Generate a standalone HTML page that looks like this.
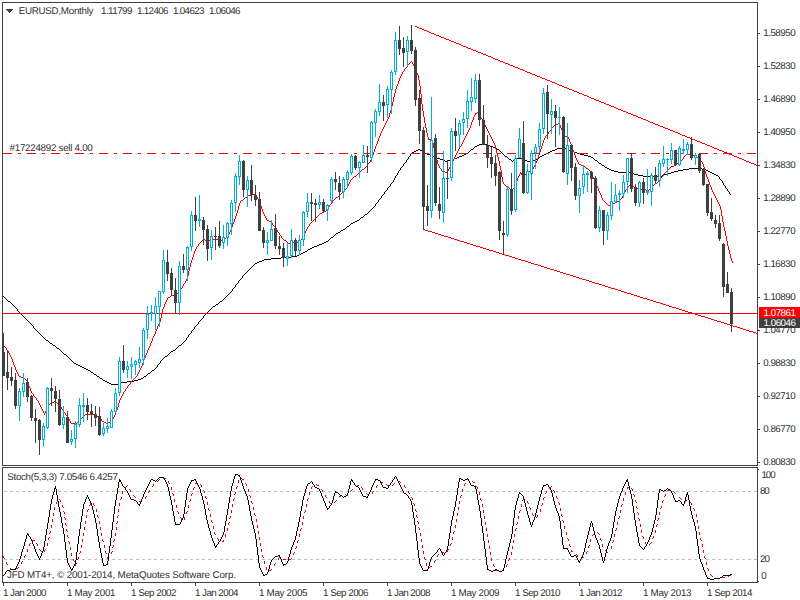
<!DOCTYPE html>
<html><head><meta charset="utf-8"><title>EURUSD Monthly</title>
<style>
html,body{margin:0;padding:0;background:#fff;}
body{width:800px;height:600px;position:relative;overflow:hidden;font-family:"Liberation Sans",sans-serif;}
.t{text-rendering:geometricPrecision;position:absolute;font-size:9.8px;line-height:12px;height:12px;white-space:nowrap;z-index:2;}
</style></head><body>
<svg width="800" height="600" viewBox="0 0 800 600" shape-rendering="crispEdges" style="position:absolute;left:0;top:0"><path d="M2 2h756v1h-756zM2 2h1v464h-1zM2 467h1v116h-1zM757 2h1v464h-1zM757 467h1v116h-1zM2 465h756v1h-756zM2 467h756v1h-756zM2 582h756v1h-756zM758 33h2v1h-2zM758 66h2v1h-2zM758 99h2v1h-2zM758 132h2v1h-2zM758 165h2v1h-2zM758 198h2v1h-2zM758 231h2v1h-2zM758 264h2v1h-2zM758 297h2v1h-2zM758 330h2v1h-2zM758 363h2v1h-2zM758 396h2v1h-2zM758 429h2v1h-2zM758 462h2v1h-2zM758 469h1v1h-1zM758 581h1v1h-1zM3 583h1v3h-1zM67 583h1v3h-1zM131 583h1v3h-1zM195 583h1v3h-1zM259 583h1v3h-1zM323 583h1v3h-1zM387 583h1v3h-1zM451 583h1v3h-1zM515 583h1v3h-1zM579 583h1v3h-1zM643 583h1v3h-1zM707 583h1v3h-1z" fill="#404040"/><path d="M4 491h3v1h-3zM10 491h3v1h-3zM16 491h3v1h-3zM22 491h3v1h-3zM28 491h3v1h-3zM34 491h3v1h-3zM40 491h3v1h-3zM46 491h3v1h-3zM52 491h3v1h-3zM58 491h3v1h-3zM64 491h3v1h-3zM70 491h3v1h-3zM76 491h3v1h-3zM82 491h3v1h-3zM88 491h3v1h-3zM94 491h3v1h-3zM100 491h3v1h-3zM106 491h3v1h-3zM112 491h3v1h-3zM118 491h3v1h-3zM124 491h3v1h-3zM130 491h3v1h-3zM136 491h3v1h-3zM142 491h3v1h-3zM148 491h3v1h-3zM154 491h3v1h-3zM160 491h3v1h-3zM166 491h3v1h-3zM172 491h3v1h-3zM178 491h3v1h-3zM184 491h3v1h-3zM190 491h3v1h-3zM196 491h3v1h-3zM202 491h3v1h-3zM208 491h3v1h-3zM214 491h3v1h-3zM220 491h3v1h-3zM226 491h3v1h-3zM232 491h3v1h-3zM238 491h3v1h-3zM244 491h3v1h-3zM250 491h3v1h-3zM256 491h3v1h-3zM262 491h3v1h-3zM268 491h3v1h-3zM274 491h3v1h-3zM280 491h3v1h-3zM286 491h3v1h-3zM292 491h3v1h-3zM298 491h3v1h-3zM304 491h3v1h-3zM310 491h3v1h-3zM316 491h3v1h-3zM322 491h3v1h-3zM328 491h3v1h-3zM334 491h3v1h-3zM340 491h3v1h-3zM346 491h3v1h-3zM352 491h3v1h-3zM358 491h3v1h-3zM364 491h3v1h-3zM370 491h3v1h-3zM376 491h3v1h-3zM382 491h3v1h-3zM388 491h3v1h-3zM394 491h3v1h-3zM400 491h3v1h-3zM406 491h3v1h-3zM412 491h3v1h-3zM418 491h3v1h-3zM424 491h3v1h-3zM430 491h3v1h-3zM436 491h3v1h-3zM442 491h3v1h-3zM448 491h3v1h-3zM454 491h3v1h-3zM460 491h3v1h-3zM466 491h3v1h-3zM472 491h3v1h-3zM478 491h3v1h-3zM484 491h3v1h-3zM490 491h3v1h-3zM496 491h3v1h-3zM502 491h3v1h-3zM508 491h3v1h-3zM514 491h3v1h-3zM520 491h3v1h-3zM526 491h3v1h-3zM532 491h3v1h-3zM538 491h3v1h-3zM544 491h3v1h-3zM550 491h3v1h-3zM556 491h3v1h-3zM562 491h3v1h-3zM568 491h3v1h-3zM574 491h3v1h-3zM580 491h3v1h-3zM586 491h3v1h-3zM592 491h3v1h-3zM598 491h3v1h-3zM604 491h3v1h-3zM610 491h3v1h-3zM616 491h3v1h-3zM622 491h3v1h-3zM628 491h3v1h-3zM634 491h3v1h-3zM640 491h3v1h-3zM646 491h3v1h-3zM652 491h3v1h-3zM658 491h3v1h-3zM664 491h3v1h-3zM670 491h3v1h-3zM676 491h3v1h-3zM682 491h3v1h-3zM688 491h3v1h-3zM694 491h3v1h-3zM700 491h3v1h-3zM706 491h3v1h-3zM712 491h3v1h-3zM718 491h3v1h-3zM724 491h3v1h-3zM730 491h3v1h-3zM736 491h3v1h-3zM742 491h3v1h-3zM748 491h3v1h-3zM754 491h3v1h-3zM4 559h3v1h-3zM10 559h3v1h-3zM16 559h3v1h-3zM22 559h3v1h-3zM28 559h3v1h-3zM34 559h3v1h-3zM40 559h3v1h-3zM46 559h3v1h-3zM52 559h3v1h-3zM58 559h3v1h-3zM64 559h3v1h-3zM70 559h3v1h-3zM76 559h3v1h-3zM82 559h3v1h-3zM88 559h3v1h-3zM94 559h3v1h-3zM100 559h3v1h-3zM106 559h3v1h-3zM112 559h3v1h-3zM118 559h3v1h-3zM124 559h3v1h-3zM130 559h3v1h-3zM136 559h3v1h-3zM142 559h3v1h-3zM148 559h3v1h-3zM154 559h3v1h-3zM160 559h3v1h-3zM166 559h3v1h-3zM172 559h3v1h-3zM178 559h3v1h-3zM184 559h3v1h-3zM190 559h3v1h-3zM196 559h3v1h-3zM202 559h3v1h-3zM208 559h3v1h-3zM214 559h3v1h-3zM220 559h3v1h-3zM226 559h3v1h-3zM232 559h3v1h-3zM238 559h3v1h-3zM244 559h3v1h-3zM250 559h3v1h-3zM256 559h3v1h-3zM262 559h3v1h-3zM268 559h3v1h-3zM274 559h3v1h-3zM280 559h3v1h-3zM286 559h3v1h-3zM292 559h3v1h-3zM298 559h3v1h-3zM304 559h3v1h-3zM310 559h3v1h-3zM316 559h3v1h-3zM322 559h3v1h-3zM328 559h3v1h-3zM334 559h3v1h-3zM340 559h3v1h-3zM346 559h3v1h-3zM352 559h3v1h-3zM358 559h3v1h-3zM364 559h3v1h-3zM370 559h3v1h-3zM376 559h3v1h-3zM382 559h3v1h-3zM388 559h3v1h-3zM394 559h3v1h-3zM400 559h3v1h-3zM406 559h3v1h-3zM412 559h3v1h-3zM418 559h3v1h-3zM424 559h3v1h-3zM430 559h3v1h-3zM436 559h3v1h-3zM442 559h3v1h-3zM448 559h3v1h-3zM454 559h3v1h-3zM460 559h3v1h-3zM466 559h3v1h-3zM472 559h3v1h-3zM478 559h3v1h-3zM484 559h3v1h-3zM490 559h3v1h-3zM496 559h3v1h-3zM502 559h3v1h-3zM508 559h3v1h-3zM514 559h3v1h-3zM520 559h3v1h-3zM526 559h3v1h-3zM532 559h3v1h-3zM538 559h3v1h-3zM544 559h3v1h-3zM550 559h3v1h-3zM556 559h3v1h-3zM562 559h3v1h-3zM568 559h3v1h-3zM574 559h3v1h-3zM580 559h3v1h-3zM586 559h3v1h-3zM592 559h3v1h-3zM598 559h3v1h-3zM604 559h3v1h-3zM610 559h3v1h-3zM616 559h3v1h-3zM622 559h3v1h-3zM628 559h3v1h-3zM634 559h3v1h-3zM640 559h3v1h-3zM646 559h3v1h-3zM652 559h3v1h-3zM658 559h3v1h-3zM664 559h3v1h-3zM670 559h3v1h-3zM676 559h3v1h-3zM682 559h3v1h-3zM688 559h3v1h-3zM694 559h3v1h-3zM700 559h3v1h-3zM706 559h3v1h-3zM712 559h3v1h-3zM718 559h3v1h-3zM724 559h3v1h-3zM730 559h3v1h-3zM736 559h3v1h-3zM742 559h3v1h-3zM748 559h3v1h-3zM754 559h3v1h-3z" fill="#C0C0C0"/><path d="M479 144h8v1h-8zM477 145h2v1h-2zM487 145h3v1h-3zM475 146h2v1h-2zM490 146h3v1h-3zM474 147h1v1h-1zM493 147h2v1h-2zM473 148h1v1h-1zM495 148h2v1h-2zM557 148h10v1h-10zM418 149h2v1h-2zM471 149h2v1h-2zM497 149h2v1h-2zM555 149h2v1h-2zM567 149h2v1h-2zM416 150h2v1h-2zM420 150h2v1h-2zM470 150h1v1h-1zM499 150h1v1h-1zM552 150h3v1h-3zM569 150h2v1h-2zM414 151h2v1h-2zM422 151h1v1h-1zM469 151h1v1h-1zM500 151h1v1h-1zM550 151h2v1h-2zM571 151h3v1h-3zM412 152h2v1h-2zM423 152h2v1h-2zM468 152h1v1h-1zM501 152h1v1h-1zM548 152h2v1h-2zM574 152h3v1h-3zM411 153h1v1h-1zM425 153h2v1h-2zM466 153h2v1h-2zM502 153h1v1h-1zM546 153h2v1h-2zM577 153h3v1h-3zM410 154h1v1h-1zM427 154h3v1h-3zM464 154h2v1h-2zM503 154h1v1h-1zM544 154h2v1h-2zM580 154h4v1h-4zM410 155h1v1h-1zM430 155h3v1h-3zM462 155h2v1h-2zM504 155h1v1h-1zM542 155h2v1h-2zM584 155h4v1h-4zM409 156h1v1h-1zM433 156h2v1h-2zM459 156h3v1h-3zM505 156h2v1h-2zM540 156h2v1h-2zM588 156h3v1h-3zM408 157h1v1h-1zM435 157h2v1h-2zM457 157h2v1h-2zM507 157h1v1h-1zM539 157h1v1h-1zM591 157h2v1h-2zM408 158h1v1h-1zM437 158h3v1h-3zM454 158h3v1h-3zM508 158h1v1h-1zM516 158h7v1h-7zM538 158h1v1h-1zM593 158h1v1h-1zM407 159h1v1h-1zM440 159h3v1h-3zM451 159h3v1h-3zM509 159h2v1h-2zM515 159h1v1h-1zM523 159h2v1h-2zM536 159h2v1h-2zM594 159h1v1h-1zM406 160h1v1h-1zM443 160h2v1h-2zM448 160h3v1h-3zM511 160h1v1h-1zM513 160h2v1h-2zM525 160h2v1h-2zM532 160h4v1h-4zM595 160h2v1h-2zM406 161h1v1h-1zM445 161h3v1h-3zM512 161h1v1h-1zM527 161h5v1h-5zM597 161h1v1h-1zM405 162h1v1h-1zM598 162h1v1h-1zM404 163h1v1h-1zM599 163h2v1h-2zM403 164h1v1h-1zM601 164h1v1h-1zM403 165h1v1h-1zM602 165h2v1h-2zM402 166h1v1h-1zM604 166h1v1h-1zM401 167h1v1h-1zM605 167h2v1h-2zM400 168h1v1h-1zM607 168h2v1h-2zM689 168h13v1h-13zM400 169h1v1h-1zM609 169h2v1h-2zM683 169h6v1h-6zM702 169h4v1h-4zM399 170h1v1h-1zM611 170h3v1h-3zM678 170h5v1h-5zM706 170h2v1h-2zM398 171h1v1h-1zM614 171h4v1h-4zM674 171h4v1h-4zM708 171h2v1h-2zM398 172h1v1h-1zM618 172h12v1h-12zM671 172h3v1h-3zM710 172h2v1h-2zM397 173h1v1h-1zM630 173h4v1h-4zM667 173h4v1h-4zM712 173h2v1h-2zM397 174h1v1h-1zM634 174h4v1h-4zM664 174h3v1h-3zM714 174h2v1h-2zM396 175h1v1h-1zM638 175h5v1h-5zM662 175h2v1h-2zM716 175h2v1h-2zM395 176h1v1h-1zM643 176h19v1h-19zM718 176h1v1h-1zM395 177h1v1h-1zM719 177h1v1h-1zM394 178h1v1h-1zM719 178h1v1h-1zM394 179h1v1h-1zM720 179h1v1h-1zM393 180h1v1h-1zM721 180h1v1h-1zM393 181h1v1h-1zM722 181h1v1h-1zM392 182h1v1h-1zM722 182h1v1h-1zM391 183h1v1h-1zM723 183h1v1h-1zM390 184h1v1h-1zM723 184h1v1h-1zM390 185h1v1h-1zM724 185h1v1h-1zM389 186h1v1h-1zM725 186h1v1h-1zM388 187h1v1h-1zM725 187h1v1h-1zM387 188h1v1h-1zM726 188h1v1h-1zM387 189h1v1h-1zM727 189h1v1h-1zM386 190h1v1h-1zM727 190h1v1h-1zM385 191h1v1h-1zM728 191h1v1h-1zM384 192h1v1h-1zM729 192h1v1h-1zM384 193h1v1h-1zM729 193h1v1h-1zM383 194h1v1h-1zM730 194h1v1h-1zM382 195h1v1h-1zM381 196h1v1h-1zM381 197h1v1h-1zM380 198h1v1h-1zM379 199h1v1h-1zM378 200h1v1h-1zM378 201h1v1h-1zM377 202h1v1h-1zM376 203h1v1h-1zM375 204h1v1h-1zM375 205h1v1h-1zM374 206h1v1h-1zM373 207h1v1h-1zM372 208h1v1h-1zM371 209h1v1h-1zM370 210h1v1h-1zM369 211h1v1h-1zM368 212h1v1h-1zM367 213h1v1h-1zM365 214h2v1h-2zM364 215h1v1h-1zM363 216h1v1h-1zM361 217h2v1h-2zM360 218h1v1h-1zM359 219h1v1h-1zM357 220h2v1h-2zM355 221h2v1h-2zM353 222h2v1h-2zM351 223h2v1h-2zM350 224h1v1h-1zM349 225h1v1h-1zM347 226h2v1h-2zM346 227h1v1h-1zM345 228h1v1h-1zM343 229h2v1h-2zM341 230h2v1h-2zM340 231h1v1h-1zM338 232h2v1h-2zM336 233h2v1h-2zM335 234h1v1h-1zM334 235h1v1h-1zM333 236h1v1h-1zM331 237h2v1h-2zM330 238h1v1h-1zM329 239h1v1h-1zM328 240h1v1h-1zM326 241h2v1h-2zM324 242h2v1h-2zM322 243h2v1h-2zM319 244h3v1h-3zM317 245h2v1h-2zM314 246h3v1h-3zM312 247h2v1h-2zM310 248h2v1h-2zM308 249h2v1h-2zM307 250h1v1h-1zM305 251h2v1h-2zM303 252h2v1h-2zM301 253h2v1h-2zM299 254h2v1h-2zM297 255h2v1h-2zM291 256h6v1h-6zM281 257h10v1h-10zM271 258h10v1h-10zM264 259h7v1h-7zM262 260h2v1h-2zM259 261h3v1h-3zM257 262h2v1h-2zM255 263h2v1h-2zM254 264h1v1h-1zM253 265h1v1h-1zM252 266h1v1h-1zM251 267h1v1h-1zM250 268h1v1h-1zM249 269h1v1h-1zM248 270h1v1h-1zM247 271h1v1h-1zM246 272h1v1h-1zM245 273h1v1h-1zM244 274h1v1h-1zM243 275h1v1h-1zM242 276h1v1h-1zM242 277h1v1h-1zM241 278h1v1h-1zM240 279h1v1h-1zM239 280h1v1h-1zM238 281h1v1h-1zM238 282h1v1h-1zM237 283h1v1h-1zM236 284h1v1h-1zM235 285h1v1h-1zM235 286h1v1h-1zM234 287h1v1h-1zM233 288h1v1h-1zM232 289h1v1h-1zM232 290h1v1h-1zM231 291h1v1h-1zM230 292h1v1h-1zM229 293h1v1h-1zM228 294h1v1h-1zM227 295h1v1h-1zM3 296h1v1h-1zM226 296h1v1h-1zM4 297h1v1h-1zM225 297h1v1h-1zM5 298h1v1h-1zM224 298h1v1h-1zM6 299h1v1h-1zM223 299h1v1h-1zM7 300h1v1h-1zM222 300h1v1h-1zM8 301h2v1h-2zM220 301h2v1h-2zM10 302h1v1h-1zM219 302h1v1h-1zM11 303h1v1h-1zM218 303h1v1h-1zM12 304h1v1h-1zM216 304h2v1h-2zM13 305h1v1h-1zM215 305h1v1h-1zM14 306h1v1h-1zM213 306h2v1h-2zM15 307h1v1h-1zM212 307h1v1h-1zM16 308h1v1h-1zM211 308h1v1h-1zM17 309h1v1h-1zM210 309h1v1h-1zM17 310h1v1h-1zM209 310h1v1h-1zM18 311h1v1h-1zM208 311h1v1h-1zM19 312h1v1h-1zM207 312h1v1h-1zM20 313h1v1h-1zM206 313h1v1h-1zM21 314h1v1h-1zM205 314h1v1h-1zM22 315h1v1h-1zM204 315h1v1h-1zM23 316h1v1h-1zM203 316h1v1h-1zM24 317h1v1h-1zM203 317h1v1h-1zM25 318h1v1h-1zM202 318h1v1h-1zM26 319h1v1h-1zM201 319h1v1h-1zM27 320h1v1h-1zM200 320h1v1h-1zM28 321h1v1h-1zM199 321h1v1h-1zM29 322h1v1h-1zM198 322h1v1h-1zM30 323h1v1h-1zM198 323h1v1h-1zM31 324h1v1h-1zM197 324h1v1h-1zM32 325h1v1h-1zM196 325h1v1h-1zM33 326h1v1h-1zM195 326h1v1h-1zM33 327h1v1h-1zM194 327h1v1h-1zM34 328h1v1h-1zM194 328h1v1h-1zM35 329h1v1h-1zM193 329h1v1h-1zM36 330h1v1h-1zM192 330h1v1h-1zM37 331h1v1h-1zM191 331h1v1h-1zM38 332h1v1h-1zM191 332h1v1h-1zM39 333h1v1h-1zM190 333h1v1h-1zM40 334h1v1h-1zM189 334h1v1h-1zM41 335h1v1h-1zM188 335h1v1h-1zM42 336h1v1h-1zM188 336h1v1h-1zM43 337h1v1h-1zM187 337h1v1h-1zM44 338h1v1h-1zM186 338h1v1h-1zM45 339h1v1h-1zM186 339h1v1h-1zM46 340h2v1h-2zM185 340h1v1h-1zM48 341h1v1h-1zM184 341h1v1h-1zM49 342h1v1h-1zM183 342h1v1h-1zM50 343h2v1h-2zM182 343h1v1h-1zM52 344h1v1h-1zM181 344h1v1h-1zM53 345h2v1h-2zM179 345h2v1h-2zM55 346h1v1h-1zM178 346h1v1h-1zM56 347h1v1h-1zM177 347h1v1h-1zM57 348h2v1h-2zM176 348h1v1h-1zM59 349h1v1h-1zM175 349h1v1h-1zM60 350h1v1h-1zM173 350h2v1h-2zM61 351h1v1h-1zM171 351h2v1h-2zM62 352h1v1h-1zM170 352h1v1h-1zM63 353h1v1h-1zM169 353h1v1h-1zM64 354h2v1h-2zM168 354h1v1h-1zM66 355h1v1h-1zM167 355h1v1h-1zM67 356h1v1h-1zM165 356h2v1h-2zM68 357h1v1h-1zM164 357h1v1h-1zM69 358h1v1h-1zM163 358h1v1h-1zM70 359h1v1h-1zM162 359h1v1h-1zM71 360h1v1h-1zM161 360h1v1h-1zM72 361h1v1h-1zM160 361h1v1h-1zM73 362h1v1h-1zM160 362h1v1h-1zM74 363h2v1h-2zM159 363h1v1h-1zM76 364h2v1h-2zM158 364h1v1h-1zM78 365h2v1h-2zM157 365h1v1h-1zM80 366h2v1h-2zM157 366h1v1h-1zM82 367h2v1h-2zM156 367h1v1h-1zM84 368h2v1h-2zM155 368h1v1h-1zM86 369h2v1h-2zM154 369h1v1h-1zM88 370h2v1h-2zM152 370h2v1h-2zM90 371h1v1h-1zM151 371h1v1h-1zM91 372h2v1h-2zM150 372h1v1h-1zM93 373h1v1h-1zM148 373h2v1h-2zM94 374h2v1h-2zM147 374h1v1h-1zM96 375h1v1h-1zM146 375h1v1h-1zM97 376h2v1h-2zM144 376h2v1h-2zM99 377h1v1h-1zM143 377h1v1h-1zM100 378h2v1h-2zM141 378h2v1h-2zM102 379h1v1h-1zM138 379h3v1h-3zM103 380h2v1h-2zM134 380h4v1h-4zM105 381h2v1h-2zM127 381h7v1h-7zM107 382h2v1h-2zM121 382h6v1h-6zM109 383h2v1h-2zM119 383h2v1h-2zM111 384h8v1h-8z" fill="#000"/><path d="M411 61h1v1h-1zM410 62h1v1h-1zM412 62h1v1h-1zM409 63h1v1h-1zM412 63h1v1h-1zM408 64h1v1h-1zM413 64h1v1h-1zM407 65h1v1h-1zM413 65h1v1h-1zM407 66h1v1h-1zM414 66h1v1h-1zM406 67h1v1h-1zM414 67h1v1h-1zM405 68h1v1h-1zM415 68h1v1h-1zM404 69h1v1h-1zM415 69h1v1h-1zM404 70h1v1h-1zM416 70h1v1h-1zM403 71h1v1h-1zM416 71h1v1h-1zM402 72h1v1h-1zM416 72h1v1h-1zM402 73h1v1h-1zM417 73h1v1h-1zM401 74h1v1h-1zM417 74h1v1h-1zM401 75h1v1h-1zM418 75h1v1h-1zM400 76h1v1h-1zM418 76h1v1h-1zM400 77h1v1h-1zM418 77h1v1h-1zM399 78h1v1h-1zM418 78h1v1h-1zM399 79h1v1h-1zM418 79h1v1h-1zM399 80h1v1h-1zM419 80h1v1h-1zM398 81h1v1h-1zM419 81h1v1h-1zM398 82h1v1h-1zM419 82h1v1h-1zM398 83h1v1h-1zM419 83h1v1h-1zM397 84h1v1h-1zM419 84h1v1h-1zM397 85h1v1h-1zM419 85h1v1h-1zM396 86h1v1h-1zM420 86h1v1h-1zM396 87h1v1h-1zM420 87h1v1h-1zM396 88h1v1h-1zM420 88h1v1h-1zM395 89h1v1h-1zM420 89h1v1h-1zM395 90h1v1h-1zM420 90h1v1h-1zM395 91h1v1h-1zM420 91h1v1h-1zM395 92h1v1h-1zM420 92h1v1h-1zM394 93h1v1h-1zM420 93h1v1h-1zM394 94h1v1h-1zM421 94h1v1h-1zM394 95h1v1h-1zM421 95h1v1h-1zM394 96h1v1h-1zM421 96h1v1h-1zM393 97h1v1h-1zM421 97h1v1h-1zM393 98h1v1h-1zM421 98h1v1h-1zM393 99h1v1h-1zM421 99h1v1h-1zM393 100h1v1h-1zM421 100h1v1h-1zM393 101h1v1h-1zM421 101h1v1h-1zM392 102h1v1h-1zM421 102h1v1h-1zM392 103h1v1h-1zM421 103h1v1h-1zM392 104h1v1h-1zM422 104h1v1h-1zM392 105h1v1h-1zM422 105h1v1h-1zM391 106h1v1h-1zM422 106h1v1h-1zM391 107h1v1h-1zM422 107h1v1h-1zM391 108h1v1h-1zM422 108h1v1h-1zM391 109h1v1h-1zM422 109h1v1h-1zM390 110h1v1h-1zM422 110h1v1h-1zM390 111h1v1h-1zM423 111h1v1h-1zM390 112h1v1h-1zM423 112h1v1h-1zM477 112h2v1h-2zM389 113h1v1h-1zM423 113h1v1h-1zM475 113h2v1h-2zM478 113h1v1h-1zM389 114h1v1h-1zM423 114h1v1h-1zM475 114h1v1h-1zM479 114h1v1h-1zM389 115h1v1h-1zM423 115h1v1h-1zM474 115h1v1h-1zM479 115h1v1h-1zM389 116h1v1h-1zM423 116h1v1h-1zM474 116h1v1h-1zM480 116h1v1h-1zM388 117h1v1h-1zM424 117h1v1h-1zM473 117h1v1h-1zM480 117h1v1h-1zM388 118h1v1h-1zM424 118h1v1h-1zM473 118h1v1h-1zM481 118h1v1h-1zM387 119h1v1h-1zM424 119h1v1h-1zM473 119h1v1h-1zM482 119h1v1h-1zM387 120h1v1h-1zM424 120h1v1h-1zM472 120h1v1h-1zM482 120h1v1h-1zM386 121h1v1h-1zM424 121h1v1h-1zM472 121h1v1h-1zM483 121h1v1h-1zM386 122h1v1h-1zM424 122h1v1h-1zM471 122h1v1h-1zM483 122h1v1h-1zM385 123h1v1h-1zM425 123h1v1h-1zM471 123h1v1h-1zM484 123h1v1h-1zM558 123h2v1h-2zM385 124h1v1h-1zM425 124h1v1h-1zM471 124h1v1h-1zM484 124h1v1h-1zM556 124h2v1h-2zM559 124h1v1h-1zM384 125h1v1h-1zM425 125h1v1h-1zM470 125h1v1h-1zM485 125h1v1h-1zM554 125h2v1h-2zM560 125h1v1h-1zM384 126h1v1h-1zM425 126h1v1h-1zM470 126h1v1h-1zM485 126h1v1h-1zM553 126h1v1h-1zM560 126h1v1h-1zM383 127h1v1h-1zM425 127h1v1h-1zM470 127h1v1h-1zM486 127h1v1h-1zM552 127h1v1h-1zM560 127h1v1h-1zM383 128h1v1h-1zM426 128h1v1h-1zM469 128h1v1h-1zM486 128h1v1h-1zM551 128h1v1h-1zM561 128h1v1h-1zM382 129h1v1h-1zM426 129h1v1h-1zM469 129h1v1h-1zM487 129h1v1h-1zM551 129h1v1h-1zM561 129h1v1h-1zM382 130h1v1h-1zM426 130h1v1h-1zM468 130h1v1h-1zM487 130h1v1h-1zM550 130h1v1h-1zM562 130h1v1h-1zM381 131h1v1h-1zM426 131h1v1h-1zM468 131h1v1h-1zM488 131h1v1h-1zM549 131h1v1h-1zM562 131h1v1h-1zM381 132h1v1h-1zM426 132h1v1h-1zM467 132h1v1h-1zM488 132h1v1h-1zM548 132h1v1h-1zM563 132h1v1h-1zM380 133h1v1h-1zM427 133h1v1h-1zM467 133h1v1h-1zM489 133h1v1h-1zM548 133h1v1h-1zM563 133h1v1h-1zM380 134h1v1h-1zM427 134h1v1h-1zM466 134h1v1h-1zM489 134h1v1h-1zM547 134h1v1h-1zM564 134h1v1h-1zM380 135h1v1h-1zM427 135h1v1h-1zM466 135h1v1h-1zM490 135h1v1h-1zM546 135h1v1h-1zM564 135h1v1h-1zM379 136h1v1h-1zM427 136h1v1h-1zM465 136h1v1h-1zM490 136h1v1h-1zM545 136h1v1h-1zM565 136h2v1h-2zM379 137h1v1h-1zM428 137h1v1h-1zM465 137h1v1h-1zM491 137h1v1h-1zM545 137h1v1h-1zM567 137h2v1h-2zM378 138h1v1h-1zM428 138h1v1h-1zM464 138h1v1h-1zM491 138h1v1h-1zM544 138h1v1h-1zM568 138h1v1h-1zM378 139h1v1h-1zM428 139h3v1h-3zM464 139h1v1h-1zM492 139h1v1h-1zM544 139h1v1h-1zM569 139h1v1h-1zM378 140h1v1h-1zM431 140h2v1h-2zM463 140h1v1h-1zM492 140h1v1h-1zM543 140h1v1h-1zM569 140h1v1h-1zM377 141h1v1h-1zM432 141h1v1h-1zM463 141h1v1h-1zM493 141h1v1h-1zM543 141h1v1h-1zM569 141h1v1h-1zM377 142h1v1h-1zM432 142h1v1h-1zM462 142h1v1h-1zM493 142h1v1h-1zM543 142h1v1h-1zM570 142h1v1h-1zM377 143h1v1h-1zM433 143h1v1h-1zM462 143h1v1h-1zM494 143h1v1h-1zM542 143h1v1h-1zM570 143h1v1h-1zM376 144h1v1h-1zM433 144h1v1h-1zM461 144h1v1h-1zM494 144h1v1h-1zM542 144h1v1h-1zM571 144h1v1h-1zM376 145h1v1h-1zM433 145h1v1h-1zM461 145h1v1h-1zM495 145h1v1h-1zM542 145h1v1h-1zM571 145h1v1h-1zM375 146h1v1h-1zM433 146h1v1h-1zM460 146h1v1h-1zM495 146h1v1h-1zM541 146h1v1h-1zM571 146h1v1h-1zM375 147h1v1h-1zM433 147h1v1h-1zM459 147h1v1h-1zM495 147h1v1h-1zM541 147h1v1h-1zM572 147h1v1h-1zM375 148h1v1h-1zM434 148h1v1h-1zM459 148h1v1h-1zM495 148h1v1h-1zM541 148h1v1h-1zM572 148h1v1h-1zM374 149h1v1h-1zM434 149h1v1h-1zM458 149h1v1h-1zM496 149h1v1h-1zM540 149h1v1h-1zM572 149h1v1h-1zM374 150h1v1h-1zM434 150h1v1h-1zM458 150h1v1h-1zM496 150h1v1h-1zM540 150h1v1h-1zM573 150h1v1h-1zM374 151h1v1h-1zM434 151h1v1h-1zM457 151h1v1h-1zM496 151h1v1h-1zM540 151h1v1h-1zM573 151h1v1h-1zM373 152h1v1h-1zM435 152h1v1h-1zM457 152h1v1h-1zM496 152h1v1h-1zM539 152h1v1h-1zM574 152h1v1h-1zM373 153h1v1h-1zM435 153h1v1h-1zM456 153h1v1h-1zM497 153h1v1h-1zM539 153h1v1h-1zM574 153h1v1h-1zM373 154h1v1h-1zM435 154h1v1h-1zM456 154h1v1h-1zM497 154h1v1h-1zM539 154h1v1h-1zM574 154h1v1h-1zM686 154h4v1h-4zM372 155h1v1h-1zM435 155h1v1h-1zM455 155h1v1h-1zM497 155h1v1h-1zM538 155h1v1h-1zM575 155h1v1h-1zM685 155h1v1h-1zM690 155h4v1h-4zM372 156h1v1h-1zM436 156h1v1h-1zM455 156h1v1h-1zM497 156h1v1h-1zM538 156h1v1h-1zM575 156h1v1h-1zM684 156h1v1h-1zM694 156h2v1h-2zM372 157h1v1h-1zM436 157h1v1h-1zM454 157h1v1h-1zM498 157h1v1h-1zM538 157h1v1h-1zM575 157h1v1h-1zM683 157h1v1h-1zM696 157h2v1h-2zM371 158h1v1h-1zM436 158h1v1h-1zM454 158h1v1h-1zM498 158h1v1h-1zM537 158h1v1h-1zM576 158h1v1h-1zM683 158h1v1h-1zM698 158h2v1h-2zM371 159h1v1h-1zM436 159h1v1h-1zM453 159h1v1h-1zM498 159h1v1h-1zM537 159h1v1h-1zM576 159h1v1h-1zM682 159h1v1h-1zM700 159h1v1h-1zM370 160h1v1h-1zM437 160h1v1h-1zM453 160h1v1h-1zM498 160h1v1h-1zM537 160h1v1h-1zM577 160h1v1h-1zM681 160h1v1h-1zM700 160h1v1h-1zM370 161h1v1h-1zM437 161h1v1h-1zM452 161h1v1h-1zM499 161h1v1h-1zM536 161h1v1h-1zM577 161h1v1h-1zM680 161h1v1h-1zM701 161h1v1h-1zM369 162h1v1h-1zM437 162h1v1h-1zM452 162h1v1h-1zM499 162h1v1h-1zM536 162h1v1h-1zM578 162h1v1h-1zM679 162h1v1h-1zM702 162h1v1h-1zM368 163h1v1h-1zM437 163h1v1h-1zM451 163h1v1h-1zM499 163h1v1h-1zM535 163h1v1h-1zM578 163h1v1h-1zM677 163h2v1h-2zM702 163h1v1h-1zM367 164h1v1h-1zM438 164h1v1h-1zM451 164h1v1h-1zM499 164h1v1h-1zM535 164h1v1h-1zM579 164h2v1h-2zM676 164h1v1h-1zM703 164h1v1h-1zM367 165h1v1h-1zM438 165h1v1h-1zM450 165h1v1h-1zM499 165h1v1h-1zM534 165h1v1h-1zM581 165h2v1h-2zM674 165h2v1h-2zM703 165h1v1h-1zM366 166h1v1h-1zM439 166h1v1h-1zM450 166h1v1h-1zM500 166h1v1h-1zM534 166h1v1h-1zM583 166h2v1h-2zM671 166h3v1h-3zM703 166h1v1h-1zM365 167h1v1h-1zM439 167h1v1h-1zM449 167h1v1h-1zM500 167h1v1h-1zM533 167h1v1h-1zM585 167h1v1h-1zM670 167h1v1h-1zM704 167h1v1h-1zM364 168h1v1h-1zM440 168h1v1h-1zM449 168h1v1h-1zM500 168h1v1h-1zM533 168h1v1h-1zM586 168h2v1h-2zM669 168h1v1h-1zM704 168h1v1h-1zM362 169h2v1h-2zM441 169h1v1h-1zM448 169h1v1h-1zM500 169h1v1h-1zM532 169h1v1h-1zM588 169h1v1h-1zM668 169h1v1h-1zM704 169h1v1h-1zM361 170h1v1h-1zM441 170h1v1h-1zM448 170h1v1h-1zM501 170h1v1h-1zM531 170h1v1h-1zM589 170h1v1h-1zM667 170h1v1h-1zM704 170h1v1h-1zM360 171h1v1h-1zM442 171h3v1h-3zM447 171h1v1h-1zM501 171h1v1h-1zM529 171h2v1h-2zM590 171h1v1h-1zM666 171h1v1h-1zM705 171h1v1h-1zM359 172h1v1h-1zM445 172h3v1h-3zM501 172h1v1h-1zM520 172h1v1h-1zM528 172h1v1h-1zM590 172h1v1h-1zM665 172h1v1h-1zM705 172h1v1h-1zM358 173h1v1h-1zM501 173h1v1h-1zM520 173h2v1h-2zM526 173h2v1h-2zM591 173h1v1h-1zM664 173h1v1h-1zM705 173h1v1h-1zM357 174h1v1h-1zM501 174h1v1h-1zM519 174h1v1h-1zM521 174h1v1h-1zM524 174h2v1h-2zM591 174h1v1h-1zM663 174h1v1h-1zM706 174h1v1h-1zM356 175h1v1h-1zM501 175h1v1h-1zM519 175h1v1h-1zM522 175h2v1h-2zM592 175h1v1h-1zM663 175h1v1h-1zM706 175h1v1h-1zM354 176h2v1h-2zM501 176h1v1h-1zM518 176h1v1h-1zM592 176h1v1h-1zM662 176h1v1h-1zM706 176h1v1h-1zM353 177h1v1h-1zM502 177h1v1h-1zM518 177h1v1h-1zM593 177h1v1h-1zM661 177h1v1h-1zM707 177h1v1h-1zM352 178h1v1h-1zM502 178h1v1h-1zM517 178h1v1h-1zM593 178h1v1h-1zM660 178h1v1h-1zM707 178h1v1h-1zM351 179h1v1h-1zM502 179h1v1h-1zM517 179h1v1h-1zM594 179h1v1h-1zM660 179h1v1h-1zM708 179h1v1h-1zM350 180h1v1h-1zM502 180h1v1h-1zM517 180h1v1h-1zM594 180h1v1h-1zM659 180h1v1h-1zM708 180h1v1h-1zM350 181h1v1h-1zM502 181h1v1h-1zM516 181h1v1h-1zM595 181h1v1h-1zM658 181h1v1h-1zM708 181h1v1h-1zM349 182h1v1h-1zM503 182h1v1h-1zM516 182h1v1h-1zM595 182h1v1h-1zM657 182h1v1h-1zM709 182h1v1h-1zM349 183h1v1h-1zM503 183h1v1h-1zM516 183h1v1h-1zM596 183h1v1h-1zM655 183h2v1h-2zM709 183h1v1h-1zM348 184h1v1h-1zM504 184h1v1h-1zM515 184h1v1h-1zM596 184h1v1h-1zM654 184h1v1h-1zM709 184h1v1h-1zM348 185h1v1h-1zM505 185h1v1h-1zM515 185h1v1h-1zM596 185h1v1h-1zM629 185h2v1h-2zM653 185h1v1h-1zM710 185h1v1h-1zM347 186h1v1h-1zM506 186h2v1h-2zM515 186h1v1h-1zM597 186h1v1h-1zM628 186h1v1h-1zM631 186h3v1h-3zM652 186h1v1h-1zM710 186h1v1h-1zM347 187h1v1h-1zM508 187h1v1h-1zM514 187h1v1h-1zM597 187h1v1h-1zM627 187h1v1h-1zM634 187h3v1h-3zM651 187h1v1h-1zM711 187h1v1h-1zM346 188h1v1h-1zM509 188h1v1h-1zM513 188h2v1h-2zM598 188h1v1h-1zM627 188h1v1h-1zM637 188h4v1h-4zM650 188h1v1h-1zM711 188h1v1h-1zM345 189h1v1h-1zM510 189h3v1h-3zM598 189h1v1h-1zM626 189h1v1h-1zM641 189h5v1h-5zM649 189h1v1h-1zM711 189h1v1h-1zM344 190h1v1h-1zM598 190h1v1h-1zM625 190h1v1h-1zM646 190h3v1h-3zM712 190h1v1h-1zM343 191h1v1h-1zM599 191h1v1h-1zM625 191h1v1h-1zM712 191h1v1h-1zM342 192h1v1h-1zM599 192h1v1h-1zM624 192h1v1h-1zM713 192h1v1h-1zM341 193h1v1h-1zM600 193h1v1h-1zM624 193h1v1h-1zM713 193h1v1h-1zM252 194h4v1h-4zM340 194h1v1h-1zM600 194h1v1h-1zM623 194h1v1h-1zM714 194h1v1h-1zM248 195h4v1h-4zM256 195h1v1h-1zM339 195h1v1h-1zM601 195h1v1h-1zM623 195h1v1h-1zM714 195h1v1h-1zM247 196h1v1h-1zM256 196h1v1h-1zM338 196h1v1h-1zM601 196h1v1h-1zM622 196h1v1h-1zM715 196h1v1h-1zM245 197h2v1h-2zM257 197h1v1h-1zM336 197h2v1h-2zM601 197h1v1h-1zM622 197h1v1h-1zM715 197h1v1h-1zM244 198h1v1h-1zM257 198h1v1h-1zM335 198h1v1h-1zM602 198h1v1h-1zM621 198h1v1h-1zM716 198h1v1h-1zM243 199h1v1h-1zM258 199h1v1h-1zM334 199h1v1h-1zM602 199h1v1h-1zM620 199h1v1h-1zM716 199h1v1h-1zM241 200h2v1h-2zM258 200h1v1h-1zM333 200h1v1h-1zM603 200h1v1h-1zM619 200h1v1h-1zM717 200h1v1h-1zM240 201h1v1h-1zM259 201h1v1h-1zM332 201h1v1h-1zM604 201h1v1h-1zM617 201h2v1h-2zM717 201h1v1h-1zM240 202h1v1h-1zM259 202h1v1h-1zM332 202h1v1h-1zM605 202h1v1h-1zM615 202h2v1h-2zM718 202h1v1h-1zM239 203h1v1h-1zM260 203h1v1h-1zM331 203h1v1h-1zM606 203h1v1h-1zM612 203h3v1h-3zM718 203h1v1h-1zM239 204h1v1h-1zM260 204h1v1h-1zM330 204h1v1h-1zM607 204h1v1h-1zM610 204h2v1h-2zM719 204h1v1h-1zM239 205h1v1h-1zM260 205h1v1h-1zM329 205h1v1h-1zM608 205h2v1h-2zM719 205h1v1h-1zM238 206h1v1h-1zM261 206h1v1h-1zM329 206h1v1h-1zM720 206h1v1h-1zM238 207h1v1h-1zM261 207h1v1h-1zM328 207h1v1h-1zM720 207h1v1h-1zM238 208h1v1h-1zM261 208h1v1h-1zM327 208h1v1h-1zM720 208h1v1h-1zM238 209h1v1h-1zM262 209h1v1h-1zM326 209h1v1h-1zM720 209h1v1h-1zM237 210h1v1h-1zM262 210h1v1h-1zM326 210h1v1h-1zM721 210h1v1h-1zM237 211h1v1h-1zM262 211h1v1h-1zM324 211h2v1h-2zM721 211h1v1h-1zM237 212h1v1h-1zM263 212h1v1h-1zM322 212h2v1h-2zM721 212h1v1h-1zM236 213h1v1h-1zM263 213h1v1h-1zM320 213h2v1h-2zM721 213h1v1h-1zM236 214h1v1h-1zM264 214h1v1h-1zM319 214h1v1h-1zM721 214h1v1h-1zM236 215h1v1h-1zM264 215h1v1h-1zM318 215h1v1h-1zM721 215h1v1h-1zM235 216h1v1h-1zM265 216h1v1h-1zM317 216h1v1h-1zM722 216h1v1h-1zM235 217h1v1h-1zM265 217h1v1h-1zM316 217h1v1h-1zM722 217h1v1h-1zM235 218h1v1h-1zM266 218h1v1h-1zM315 218h1v1h-1zM722 218h1v1h-1zM234 219h1v1h-1zM266 219h1v1h-1zM314 219h1v1h-1zM722 219h1v1h-1zM234 220h1v1h-1zM267 220h2v1h-2zM313 220h1v1h-1zM722 220h1v1h-1zM234 221h1v1h-1zM269 221h2v1h-2zM312 221h1v1h-1zM722 221h1v1h-1zM233 222h1v1h-1zM271 222h1v1h-1zM311 222h1v1h-1zM723 222h1v1h-1zM233 223h1v1h-1zM272 223h1v1h-1zM310 223h1v1h-1zM723 223h1v1h-1zM232 224h1v1h-1zM272 224h1v1h-1zM309 224h1v1h-1zM723 224h1v1h-1zM232 225h1v1h-1zM273 225h1v1h-1zM309 225h1v1h-1zM723 225h1v1h-1zM232 226h1v1h-1zM274 226h1v1h-1zM308 226h1v1h-1zM723 226h1v1h-1zM231 227h1v1h-1zM275 227h1v1h-1zM307 227h1v1h-1zM724 227h1v1h-1zM231 228h1v1h-1zM275 228h1v1h-1zM307 228h1v1h-1zM724 228h1v1h-1zM231 229h1v1h-1zM276 229h1v1h-1zM306 229h1v1h-1zM724 229h1v1h-1zM230 230h1v1h-1zM277 230h1v1h-1zM306 230h1v1h-1zM724 230h1v1h-1zM230 231h1v1h-1zM277 231h1v1h-1zM305 231h1v1h-1zM725 231h1v1h-1zM229 232h1v1h-1zM278 232h1v1h-1zM305 232h1v1h-1zM725 232h1v1h-1zM229 233h1v1h-1zM279 233h1v1h-1zM304 233h1v1h-1zM725 233h1v1h-1zM228 234h1v1h-1zM279 234h1v1h-1zM304 234h1v1h-1zM725 234h1v1h-1zM227 235h1v1h-1zM280 235h1v1h-1zM303 235h1v1h-1zM725 235h1v1h-1zM226 236h1v1h-1zM281 236h1v1h-1zM303 236h1v1h-1zM726 236h1v1h-1zM226 237h1v1h-1zM281 237h1v1h-1zM302 237h1v1h-1zM726 237h1v1h-1zM225 238h1v1h-1zM282 238h1v1h-1zM302 238h1v1h-1zM726 238h1v1h-1zM204 239h1v1h-1zM212 239h6v1h-6zM223 239h2v1h-2zM283 239h1v1h-1zM301 239h1v1h-1zM726 239h1v1h-1zM202 240h2v1h-2zM205 240h1v1h-1zM208 240h4v1h-4zM218 240h5v1h-5zM284 240h2v1h-2zM300 240h1v1h-1zM726 240h1v1h-1zM201 241h1v1h-1zM206 241h2v1h-2zM286 241h1v1h-1zM300 241h1v1h-1zM727 241h1v1h-1zM200 242h1v1h-1zM287 242h1v1h-1zM291 242h9v1h-9zM727 242h1v1h-1zM199 243h1v1h-1zM288 243h3v1h-3zM727 243h1v1h-1zM198 244h1v1h-1zM727 244h1v1h-1zM198 245h1v1h-1zM727 245h1v1h-1zM197 246h1v1h-1zM728 246h1v1h-1zM196 247h1v1h-1zM728 247h1v1h-1zM196 248h1v1h-1zM728 248h1v1h-1zM195 249h1v1h-1zM728 249h1v1h-1zM195 250h1v1h-1zM729 250h1v1h-1zM194 251h1v1h-1zM729 251h1v1h-1zM194 252h1v1h-1zM729 252h1v1h-1zM194 253h1v1h-1zM729 253h1v1h-1zM193 254h1v1h-1zM730 254h1v1h-1zM193 255h1v1h-1zM730 255h1v1h-1zM193 256h1v1h-1zM730 256h1v1h-1zM192 257h1v1h-1zM730 257h1v1h-1zM192 258h1v1h-1zM731 258h1v1h-1zM192 259h1v1h-1zM731 259h1v1h-1zM191 260h1v1h-1zM731 260h1v1h-1zM191 261h1v1h-1zM732 261h1v1h-1zM191 262h1v1h-1zM732 262h1v1h-1zM190 263h1v1h-1zM190 264h1v1h-1zM190 265h1v1h-1zM190 266h1v1h-1zM189 267h1v1h-1zM189 268h1v1h-1zM189 269h1v1h-1zM189 270h1v1h-1zM188 271h1v1h-1zM188 272h1v1h-1zM188 273h1v1h-1zM188 274h1v1h-1zM188 275h1v1h-1zM187 276h1v1h-1zM187 277h1v1h-1zM187 278h1v1h-1zM186 279h1v1h-1zM186 280h1v1h-1zM185 281h1v1h-1zM185 282h1v1h-1zM184 283h1v1h-1zM183 284h1v1h-1zM183 285h1v1h-1zM182 286h1v1h-1zM182 287h1v1h-1zM181 288h1v1h-1zM180 289h1v1h-1zM179 290h1v1h-1zM178 291h1v1h-1zM178 292h1v1h-1zM177 293h1v1h-1zM174 294h3v1h-3zM171 295h3v1h-3zM170 296h1v1h-1zM168 297h2v1h-2zM167 298h1v1h-1zM167 299h1v1h-1zM166 300h1v1h-1zM166 301h1v1h-1zM165 302h1v1h-1zM165 303h1v1h-1zM164 304h1v1h-1zM164 305h1v1h-1zM164 306h1v1h-1zM163 307h1v1h-1zM163 308h1v1h-1zM162 309h1v1h-1zM162 310h1v1h-1zM162 311h1v1h-1zM162 312h1v1h-1zM161 313h1v1h-1zM161 314h1v1h-1zM161 315h1v1h-1zM161 316h1v1h-1zM161 317h1v1h-1zM160 318h1v1h-1zM160 319h1v1h-1zM160 320h1v1h-1zM160 321h1v1h-1zM159 322h1v1h-1zM159 323h1v1h-1zM158 324h1v1h-1zM158 325h1v1h-1zM157 326h1v1h-1zM157 327h1v1h-1zM157 328h1v1h-1zM156 329h1v1h-1zM156 330h1v1h-1zM155 331h1v1h-1zM155 332h1v1h-1zM155 333h1v1h-1zM154 334h1v1h-1zM154 335h1v1h-1zM153 336h1v1h-1zM153 337h1v1h-1zM152 338h1v1h-1zM152 339h1v1h-1zM152 340h1v1h-1zM151 341h1v1h-1zM151 342h1v1h-1zM150 343h1v1h-1zM150 344h1v1h-1zM150 345h1v1h-1zM4 346h1v1h-1zM149 346h1v1h-1zM5 347h1v1h-1zM149 347h1v1h-1zM6 348h1v1h-1zM148 348h1v1h-1zM6 349h1v1h-1zM148 349h1v1h-1zM7 350h1v1h-1zM147 350h1v1h-1zM8 351h1v1h-1zM147 351h1v1h-1zM8 352h1v1h-1zM147 352h1v1h-1zM9 353h1v1h-1zM146 353h1v1h-1zM9 354h1v1h-1zM146 354h1v1h-1zM10 355h1v1h-1zM145 355h1v1h-1zM10 356h1v1h-1zM145 356h1v1h-1zM11 357h1v1h-1zM145 357h1v1h-1zM11 358h1v1h-1zM144 358h1v1h-1zM12 359h1v1h-1zM144 359h1v1h-1zM12 360h1v1h-1zM143 360h1v1h-1zM12 361h1v1h-1zM143 361h1v1h-1zM13 362h1v1h-1zM143 362h1v1h-1zM13 363h1v1h-1zM142 363h1v1h-1zM13 364h1v1h-1zM142 364h1v1h-1zM14 365h1v1h-1zM142 365h1v1h-1zM14 366h1v1h-1zM141 366h1v1h-1zM15 367h1v1h-1zM141 367h1v1h-1zM15 368h1v1h-1zM140 368h1v1h-1zM15 369h1v1h-1zM140 369h1v1h-1zM16 370h1v1h-1zM139 370h1v1h-1zM16 371h1v1h-1zM139 371h1v1h-1zM17 372h1v1h-1zM138 372h1v1h-1zM17 373h1v1h-1zM138 373h1v1h-1zM18 374h1v1h-1zM137 374h1v1h-1zM18 375h1v1h-1zM137 375h1v1h-1zM19 376h2v1h-2zM136 376h1v1h-1zM21 377h2v1h-2zM135 377h1v1h-1zM23 378h2v1h-2zM134 378h1v1h-1zM25 379h1v1h-1zM133 379h1v1h-1zM26 380h1v1h-1zM132 380h1v1h-1zM27 381h1v1h-1zM131 381h1v1h-1zM27 382h1v1h-1zM130 382h1v1h-1zM28 383h1v1h-1zM130 383h1v1h-1zM28 384h1v1h-1zM129 384h1v1h-1zM28 385h1v1h-1zM128 385h1v1h-1zM29 386h1v1h-1zM127 386h1v1h-1zM29 387h1v1h-1zM127 387h1v1h-1zM30 388h1v1h-1zM126 388h1v1h-1zM30 389h1v1h-1zM125 389h1v1h-1zM30 390h1v1h-1zM125 390h1v1h-1zM31 391h1v1h-1zM124 391h1v1h-1zM31 392h1v1h-1zM123 392h1v1h-1zM32 393h1v1h-1zM123 393h1v1h-1zM33 394h1v1h-1zM122 394h1v1h-1zM33 395h1v1h-1zM122 395h1v1h-1zM34 396h1v1h-1zM121 396h1v1h-1zM35 397h1v1h-1zM121 397h1v1h-1zM36 398h1v1h-1zM120 398h1v1h-1zM36 399h1v1h-1zM120 399h1v1h-1zM37 400h1v1h-1zM119 400h1v1h-1zM38 401h1v1h-1zM54 401h1v1h-1zM119 401h1v1h-1zM38 402h1v1h-1zM52 402h2v1h-2zM55 402h2v1h-2zM119 402h1v1h-1zM39 403h1v1h-1zM50 403h2v1h-2zM57 403h2v1h-2zM118 403h1v1h-1zM39 404h1v1h-1zM49 404h1v1h-1zM59 404h1v1h-1zM118 404h1v1h-1zM40 405h1v1h-1zM48 405h1v1h-1zM60 405h1v1h-1zM118 405h1v1h-1zM40 406h1v1h-1zM48 406h1v1h-1zM60 406h1v1h-1zM118 406h1v1h-1zM41 407h1v1h-1zM47 407h1v1h-1zM61 407h1v1h-1zM117 407h1v1h-1zM41 408h1v1h-1zM47 408h1v1h-1zM61 408h1v1h-1zM117 408h1v1h-1zM42 409h1v1h-1zM46 409h1v1h-1zM62 409h1v1h-1zM117 409h1v1h-1zM42 410h1v1h-1zM46 410h1v1h-1zM63 410h1v1h-1zM116 410h1v1h-1zM43 411h1v1h-1zM45 411h1v1h-1zM63 411h1v1h-1zM116 411h1v1h-1zM43 412h1v1h-1zM45 412h1v1h-1zM64 412h1v1h-1zM115 412h1v1h-1zM44 413h1v1h-1zM65 413h1v1h-1zM115 413h1v1h-1zM44 414h1v1h-1zM65 414h1v1h-1zM85 414h10v1h-10zM115 414h1v1h-1zM66 415h1v1h-1zM84 415h1v1h-1zM95 415h2v1h-2zM114 415h1v1h-1zM67 416h1v1h-1zM83 416h1v1h-1zM97 416h1v1h-1zM114 416h1v1h-1zM67 417h1v1h-1zM82 417h1v1h-1zM98 417h2v1h-2zM113 417h1v1h-1zM68 418h1v1h-1zM81 418h1v1h-1zM100 418h1v1h-1zM113 418h1v1h-1zM69 419h1v1h-1zM80 419h1v1h-1zM101 419h1v1h-1zM112 419h1v1h-1zM69 420h1v1h-1zM79 420h1v1h-1zM101 420h1v1h-1zM111 420h1v1h-1zM70 421h1v1h-1zM78 421h1v1h-1zM102 421h2v1h-2zM110 421h1v1h-1zM70 422h1v1h-1zM77 422h1v1h-1zM104 422h2v1h-2zM108 422h2v1h-2zM71 423h6v1h-6zM106 423h2v1h-2z" fill="#FF0000"/><path d="M3 313h754v1h-754z" fill="#FF0000"/><path d="M3 153h9v1h-9zM18 153h3v1h-3zM27 153h9v1h-9zM42 153h3v1h-3zM51 153h9v1h-9zM66 153h3v1h-3zM75 153h9v1h-9zM90 153h3v1h-3zM99 153h9v1h-9zM114 153h3v1h-3zM123 153h9v1h-9zM138 153h3v1h-3zM147 153h9v1h-9zM162 153h3v1h-3zM171 153h9v1h-9zM186 153h3v1h-3zM195 153h9v1h-9zM210 153h3v1h-3zM219 153h9v1h-9zM234 153h3v1h-3zM243 153h9v1h-9zM258 153h3v1h-3zM267 153h9v1h-9zM282 153h3v1h-3zM291 153h9v1h-9zM306 153h3v1h-3zM315 153h9v1h-9zM330 153h3v1h-3zM339 153h9v1h-9zM354 153h3v1h-3zM363 153h9v1h-9zM378 153h3v1h-3zM387 153h9v1h-9zM402 153h3v1h-3zM411 153h9v1h-9zM426 153h3v1h-3zM435 153h9v1h-9zM450 153h3v1h-3zM459 153h9v1h-9zM474 153h3v1h-3zM483 153h9v1h-9zM498 153h3v1h-3zM507 153h9v1h-9zM522 153h3v1h-3zM531 153h9v1h-9zM546 153h3v1h-3zM555 153h9v1h-9zM570 153h3v1h-3zM579 153h9v1h-9zM594 153h3v1h-3zM603 153h9v1h-9zM618 153h3v1h-3zM627 153h9v1h-9zM642 153h3v1h-3zM651 153h9v1h-9zM666 153h3v1h-3zM675 153h9v1h-9zM690 153h3v1h-3zM699 153h9v1h-9zM714 153h3v1h-3zM723 153h9v1h-9zM738 153h3v1h-3zM747 153h9v1h-9z" fill="#FF0000"/><path d="M415 26h2v1h-2zM417 27h2v1h-2zM419 28h3v1h-3zM422 29h2v1h-2zM424 30h3v1h-3zM427 31h2v1h-2zM429 32h2v1h-2zM431 33h3v1h-3zM434 34h2v1h-2zM436 35h3v1h-3zM439 36h2v1h-2zM441 37h3v1h-3zM444 38h2v1h-2zM446 39h3v1h-3zM449 40h2v1h-2zM451 41h3v1h-3zM454 42h2v1h-2zM456 43h3v1h-3zM459 44h2v1h-2zM461 45h2v1h-2zM463 46h3v1h-3zM466 47h2v1h-2zM468 48h3v1h-3zM471 49h2v1h-2zM473 50h3v1h-3zM476 51h2v1h-2zM478 52h3v1h-3zM481 53h2v1h-2zM483 54h3v1h-3zM486 55h2v1h-2zM488 56h3v1h-3zM491 57h2v1h-2zM493 58h2v1h-2zM495 59h3v1h-3zM498 60h2v1h-2zM500 61h3v1h-3zM503 62h2v1h-2zM505 63h3v1h-3zM508 64h2v1h-2zM510 65h3v1h-3zM513 66h2v1h-2zM515 67h3v1h-3zM518 68h2v1h-2zM520 69h3v1h-3zM523 70h2v1h-2zM525 71h2v1h-2zM527 72h3v1h-3zM530 73h2v1h-2zM532 74h3v1h-3zM535 75h2v1h-2zM537 76h3v1h-3zM540 77h2v1h-2zM542 78h3v1h-3zM545 79h2v1h-2zM547 80h3v1h-3zM550 81h2v1h-2zM552 82h3v1h-3zM555 83h2v1h-2zM557 84h2v1h-2zM559 85h3v1h-3zM562 86h2v1h-2zM564 87h3v1h-3zM567 88h2v1h-2zM569 89h3v1h-3zM572 90h2v1h-2zM574 91h3v1h-3zM577 92h2v1h-2zM579 93h3v1h-3zM582 94h2v1h-2zM584 95h3v1h-3zM587 96h2v1h-2zM589 97h2v1h-2zM591 98h3v1h-3zM594 99h2v1h-2zM596 100h3v1h-3zM599 101h2v1h-2zM601 102h3v1h-3zM604 103h2v1h-2zM606 104h3v1h-3zM609 105h2v1h-2zM611 106h3v1h-3zM614 107h2v1h-2zM616 108h2v1h-2zM618 109h3v1h-3zM621 110h2v1h-2zM623 111h3v1h-3zM626 112h2v1h-2zM628 113h3v1h-3zM631 114h2v1h-2zM633 115h3v1h-3zM636 116h2v1h-2zM638 117h3v1h-3zM641 118h2v1h-2zM643 119h3v1h-3zM646 120h2v1h-2zM648 121h2v1h-2zM650 122h3v1h-3zM653 123h2v1h-2zM655 124h3v1h-3zM658 125h2v1h-2zM660 126h3v1h-3zM663 127h2v1h-2zM665 128h3v1h-3zM668 129h2v1h-2zM670 130h3v1h-3zM673 131h2v1h-2zM675 132h3v1h-3zM678 133h2v1h-2zM680 134h2v1h-2zM682 135h3v1h-3zM685 136h2v1h-2zM687 137h3v1h-3zM690 138h2v1h-2zM692 139h3v1h-3zM695 140h2v1h-2zM697 141h3v1h-3zM700 142h2v1h-2zM702 143h3v1h-3zM705 144h2v1h-2zM707 145h3v1h-3zM710 146h2v1h-2zM712 147h2v1h-2zM714 148h3v1h-3zM717 149h2v1h-2zM719 150h3v1h-3zM722 151h2v1h-2zM724 152h3v1h-3zM727 153h2v1h-2zM729 154h3v1h-3zM732 155h2v1h-2zM734 156h3v1h-3zM737 157h2v1h-2zM739 158h3v1h-3zM742 159h2v1h-2zM744 160h2v1h-2zM746 161h3v1h-3zM749 162h2v1h-2zM751 163h3v1h-3zM754 164h2v1h-2zM756 165h2v1h-2zM423 229h2v1h-2zM425 230h3v1h-3zM428 231h4v1h-4zM432 232h3v1h-3zM435 233h3v1h-3zM438 234h3v1h-3zM441 235h3v1h-3zM444 236h4v1h-4zM448 237h3v1h-3zM451 238h3v1h-3zM454 239h3v1h-3zM457 240h3v1h-3zM460 241h4v1h-4zM464 242h3v1h-3zM467 243h3v1h-3zM470 244h3v1h-3zM473 245h3v1h-3zM476 246h4v1h-4zM480 247h3v1h-3zM483 248h3v1h-3zM486 249h3v1h-3zM489 250h4v1h-4zM493 251h3v1h-3zM496 252h3v1h-3zM499 253h3v1h-3zM502 254h3v1h-3zM505 255h4v1h-4zM509 256h3v1h-3zM512 257h3v1h-3zM515 258h3v1h-3zM518 259h3v1h-3zM521 260h4v1h-4zM525 261h3v1h-3zM528 262h3v1h-3zM531 263h3v1h-3zM534 264h4v1h-4zM538 265h3v1h-3zM541 266h3v1h-3zM544 267h3v1h-3zM547 268h3v1h-3zM550 269h4v1h-4zM554 270h3v1h-3zM557 271h3v1h-3zM560 272h3v1h-3zM563 273h3v1h-3zM566 274h4v1h-4zM570 275h3v1h-3zM573 276h3v1h-3zM576 277h3v1h-3zM579 278h3v1h-3zM582 279h4v1h-4zM586 280h3v1h-3zM589 281h3v1h-3zM592 282h3v1h-3zM595 283h4v1h-4zM599 284h3v1h-3zM602 285h3v1h-3zM605 286h3v1h-3zM608 287h3v1h-3zM611 288h4v1h-4zM615 289h3v1h-3zM618 290h3v1h-3zM621 291h3v1h-3zM624 292h3v1h-3zM627 293h4v1h-4zM631 294h3v1h-3zM634 295h3v1h-3zM637 296h3v1h-3zM640 297h3v1h-3zM643 298h4v1h-4zM647 299h3v1h-3zM650 300h3v1h-3zM653 301h3v1h-3zM656 302h4v1h-4zM660 303h3v1h-3zM663 304h3v1h-3zM666 305h3v1h-3zM669 306h3v1h-3zM672 307h4v1h-4zM676 308h3v1h-3zM679 309h3v1h-3zM682 310h3v1h-3zM685 311h3v1h-3zM688 312h4v1h-4zM692 313h3v1h-3zM695 314h3v1h-3zM698 315h3v1h-3zM701 316h4v1h-4zM705 317h3v1h-3zM708 318h3v1h-3zM711 319h3v1h-3zM714 320h3v1h-3zM717 321h4v1h-4zM721 322h3v1h-3zM724 323h3v1h-3zM727 324h3v1h-3zM730 325h3v1h-3zM733 326h4v1h-4zM737 327h3v1h-3zM740 328h3v1h-3zM743 329h3v1h-3zM746 330h3v1h-3zM749 331h4v1h-4zM753 332h3v1h-3zM756 333h2v1h-2z" fill="#FF0000"/><path d="M3 333h1v43h-1zM2 352h3v24h-3zM7 351h1v39h-1zM6 372h3v6h-3zM11 367h1v19h-1zM10 377h3v4h-3zM15 373h1v36h-1zM14 380h3v26h-3zM27 378h1v24h-1zM26 382h3v15h-3zM31 395h1v26h-1zM30 396h3v22h-3zM35 409h1v34h-1zM34 418h3v3h-3zM39 419h1v36h-1zM38 420h3v20h-3zM51 378h1v28h-1zM50 388h3v3h-3zM55 386h1v26h-1zM54 391h3v8h-3zM59 390h1v36h-1zM58 399h3v26h-3zM67 411h1v32h-1zM66 417h3v26h-3zM87 398h1v22h-1zM86 405h3v7h-3zM91 404h1v23h-1zM90 411h3v3h-3zM95 406h1v20h-1zM94 414h3v4h-3zM99 407h1v29h-1zM98 416h3v19h-3zM123 345h1v28h-1zM122 361h3v9h-3zM167 250h1v31h-1zM166 262h3v12h-3zM171 268h1v27h-1zM170 273h3v17h-3zM175 278h1v36h-1zM174 290h3v13h-3zM183 254h1v19h-1zM182 266h3v4h-3zM195 197h1v34h-1zM194 215h3v6h-3zM203 217h1v28h-1zM202 220h3v10h-3zM207 225h1v36h-1zM206 229h3v20h-3zM215 227h1v23h-1zM214 236h3v1h-3zM219 221h1v27h-1zM218 236h3v10h-3zM243 160h1v37h-1zM242 161h3v29h-3zM251 165h1v36h-1zM250 180h3v15h-3zM255 185h1v21h-1zM254 195h3v5h-3zM259 192h1v39h-1zM258 199h3v32h-3zM263 227h1v21h-1zM262 230h3v13h-3zM275 214h1v35h-1zM274 228h3v18h-3zM279 236h1v19h-1zM278 246h3v3h-3zM283 243h1v24h-1zM282 248h3v10h-3zM295 238h1v18h-1zM294 240h3v11h-3zM311 193h1v28h-1zM310 202h3v2h-3zM315 199h1v23h-1zM314 203h3v2h-3zM323 199h1v13h-1zM322 202h3v9h-3zM335 172h1v18h-1zM334 179h3v3h-3zM339 176h1v24h-1zM338 183h3v9h-3zM355 155h1v15h-1zM354 156h3v12h-3zM367 146h1v27h-1zM366 155h3v2h-3zM383 95h1v26h-1zM382 102h3v4h-3zM399 26h1v29h-1zM398 40h3v9h-3zM403 37h1v30h-1zM402 48h3v5h-3zM411 25h1v29h-1zM410 40h3v11h-3zM415 47h1v59h-1zM414 50h3v50h-3zM419 90h1v54h-1zM418 98h3v33h-3zM423 127h1v103h-1zM422 130h3v77h-3zM427 185h1v41h-1zM426 206h3v5h-3zM435 134h1v72h-1zM434 138h3v65h-3zM439 187h1v32h-1zM438 204h3v7h-3zM447 160h1v39h-1zM446 178h3v1h-3zM455 118h1v33h-1zM454 131h3v5h-3zM479 74h1v52h-1zM478 80h3v40h-3zM483 105h1v40h-1zM482 120h3v25h-3zM487 135h1v33h-1zM486 145h3v13h-3zM491 147h1v31h-1zM490 157h3v7h-3zM495 155h1v31h-1zM494 163h3v13h-3zM499 171h1v69h-1zM498 172h3v59h-3zM503 221h1v34h-1zM502 233h3v2h-3zM511 173h1v42h-1zM510 189h3v22h-3zM523 121h1v73h-1zM522 143h3v50h-3zM547 85h1v54h-1zM546 92h3v22h-3zM555 105h1v42h-1zM554 111h3v7h-3zM563 116h1v57h-1zM562 117h3v55h-3zM571 144h1v37h-1zM570 145h3v23h-3zM575 163h1v37h-1zM574 167h3v29h-3zM591 171h1v22h-1zM590 172h3v7h-3zM595 176h1v53h-1zM594 178h3v50h-3zM603 210h1v35h-1zM602 210h3v21h-3zM631 153h1v39h-1zM630 158h3v31h-3zM635 184h1v22h-1zM634 188h3v15h-3zM643 178h1v26h-1zM642 182h3v11h-3zM655 167h1v16h-1zM654 175h3v6h-3zM675 150h1v16h-1zM674 150h3v15h-3zM691 137h1v23h-1zM690 144h3v14h-3zM699 153h1v20h-1zM698 154h3v17h-3zM703 168h1v18h-1zM702 170h3v15h-3zM707 184h1v32h-1zM706 184h3v29h-3zM711 198h1v23h-1zM710 212h3v7h-3zM715 215h1v13h-1zM714 220h3v4h-3zM719 215h1v26h-1zM718 223h3v16h-3zM723 243h1v54h-1zM722 244h3v43h-3zM727 272h1v21h-1zM726 284h3v9h-3zM731 288h1v44h-1zM730 292h3v32h-3z" fill="#404040"/><path d="M19 388h1v3h-1zM19 406h1v15h-1zM18 391h3v15h-3zM23 373h1v10h-1zM23 392h1v5h-1zM22 383h3v9h-3zM43 423h1v3h-1zM43 440h1v7h-1zM42 426h3v14h-3zM47 387h1v1h-1zM47 428h1v1h-1zM46 388h3v40h-3zM63 406h1v11h-1zM63 425h1v4h-1zM62 417h3v8h-3zM71 430h1v9h-1zM71 442h1v3h-1zM70 439h3v3h-3zM75 421h1v3h-1zM75 439h1v9h-1zM74 424h3v15h-3zM79 398h1v7h-1zM79 425h1v2h-1zM78 405h3v20h-3zM83 393h1v12h-1zM83 407h1v15h-1zM82 405h3v2h-3zM103 423h1v5h-1zM103 434h1v2h-1zM102 428h3v6h-3zM107 418h1v8h-1zM107 429h1v4h-1zM106 426h3v3h-3zM111 409h1v2h-1zM110 411h3v17h-3zM115 388h1v5h-1zM115 412h1v1h-1zM114 393h3v19h-3zM119 357h1v4h-1zM119 393h1v3h-1zM118 361h3v32h-3zM127 361h1v5h-1zM127 370h1v8h-1zM126 366h3v4h-3zM131 357h1v7h-1zM131 367h1v12h-1zM130 364h3v3h-3zM135 360h1v1h-1zM135 365h1v10h-1zM134 361h3v4h-3zM139 347h1v12h-1zM139 363h1v5h-1zM138 359h3v4h-3zM143 328h1v2h-1zM143 360h1v5h-1zM142 330h3v30h-3zM147 306h1v8h-1zM147 330h1v9h-1zM146 314h3v16h-3zM151 305h1v7h-1zM151 314h1v7h-1zM150 312h3v2h-3zM155 297h1v9h-1zM155 314h1v16h-1zM154 306h3v8h-3zM159 307h1v20h-1zM158 291h3v16h-3zM163 250h1v10h-1zM163 292h1v2h-1zM162 260h3v32h-3zM179 261h1v5h-1zM179 303h1v12h-1zM178 266h3v37h-3zM187 246h1v1h-1zM187 270h1v11h-1zM186 247h3v23h-3zM191 211h1v4h-1zM191 247h1v4h-1zM190 215h3v32h-3zM199 195h1v24h-1zM199 221h1v6h-1zM198 219h3v2h-3zM211 230h1v6h-1zM211 248h1v12h-1zM210 236h3v12h-3zM223 225h1v12h-1zM223 243h1v6h-1zM222 237h3v6h-3zM227 222h1v1h-1zM227 238h1v8h-1zM226 223h3v15h-3zM231 200h1v3h-1zM231 224h1v11h-1zM230 203h3v21h-3zM235 173h1v3h-1zM235 203h1v9h-1zM234 176h3v27h-3zM239 155h1v6h-1zM239 177h1v8h-1zM238 161h3v16h-3zM247 176h1v4h-1zM247 190h1v17h-1zM246 180h3v10h-3zM267 232h1v8h-1zM267 243h1v12h-1zM266 240h3v3h-3zM271 220h1v9h-1zM270 229h3v12h-3zM287 243h1v13h-1zM287 259h1v7h-1zM286 256h3v3h-3zM291 229h1v11h-1zM291 256h1v2h-1zM290 240h3v16h-3zM299 235h1v5h-1zM299 251h1v4h-1zM298 240h3v11h-3zM303 211h1v1h-1zM303 240h1v6h-1zM302 212h3v28h-3zM307 193h1v9h-1zM307 212h1v5h-1zM306 202h3v10h-3zM319 195h1v7h-1zM319 205h1v4h-1zM318 202h3v3h-3zM327 204h1v1h-1zM327 210h1v11h-1zM326 205h3v5h-3zM331 177h1v2h-1zM331 201h1v2h-1zM330 179h3v22h-3zM343 177h1v2h-1zM343 192h1v6h-1zM342 179h3v13h-3zM347 170h1v2h-1zM347 180h1v8h-1zM346 172h3v8h-3zM351 154h1v2h-1zM351 173h1v2h-1zM350 156h3v17h-3zM359 161h1v1h-1zM359 168h1v10h-1zM358 162h3v6h-3zM363 145h1v10h-1zM362 155h3v8h-3zM371 121h1v1h-1zM371 158h1v4h-1zM370 122h3v36h-3zM375 109h1v2h-1zM375 123h1v14h-1zM374 111h3v12h-3zM379 84h1v18h-1zM379 112h1v4h-1zM378 102h3v10h-3zM387 86h1v3h-1zM387 105h1v13h-1zM386 89h3v16h-3zM391 70h1v2h-1zM391 90h1v24h-1zM390 72h3v18h-3zM395 32h1v8h-1zM395 72h1v3h-1zM394 40h3v32h-3zM407 36h1v4h-1zM407 52h1v14h-1zM406 40h3v12h-3zM431 97h1v43h-1zM431 211h1v7h-1zM430 140h3v71h-3zM443 151h1v27h-1zM443 213h1v10h-1zM442 178h3v35h-3zM451 128h1v3h-1zM451 178h1v3h-1zM450 131h3v47h-3zM459 120h1v3h-1zM459 135h1v12h-1zM458 123h3v12h-3zM463 112h1v7h-1zM463 123h1v12h-1zM462 119h3v4h-3zM467 90h1v11h-1zM467 119h1v9h-1zM466 101h3v18h-3zM471 78h1v19h-1zM471 102h1v9h-1zM470 97h3v5h-3zM475 74h1v6h-1zM475 99h1v4h-1zM474 80h3v19h-3zM507 187h1v2h-1zM507 235h1v2h-1zM506 189h3v46h-3zM515 155h1v3h-1zM515 210h1v2h-1zM514 158h3v52h-3zM519 128h1v11h-1zM518 139h3v19h-3zM527 164h1v7h-1zM527 193h1v1h-1zM526 171h3v22h-3zM531 150h1v3h-1zM531 174h1v26h-1zM530 153h3v21h-3zM535 144h1v3h-1zM535 153h1v16h-1zM534 147h3v6h-3zM539 123h1v6h-1zM539 147h1v5h-1zM538 129h3v18h-3zM543 88h1v5h-1zM543 129h1v5h-1zM542 93h3v36h-3zM551 99h1v12h-1zM551 115h1v19h-1zM550 111h3v4h-3zM559 107h1v10h-1zM559 118h1v17h-1zM558 117h3v1h-3zM567 123h1v22h-1zM567 174h1v11h-1zM566 145h3v29h-3zM579 180h1v8h-1zM579 196h1v17h-1zM578 188h3v8h-3zM583 165h1v9h-1zM583 187h1v7h-1zM582 174h3v13h-3zM587 171h1v2h-1zM587 175h1v17h-1zM586 173h3v2h-3zM599 206h1v4h-1zM599 228h1v4h-1zM598 210h3v18h-3zM607 212h1v3h-1zM607 231h1v9h-1zM606 215h3v16h-3zM611 182h1v19h-1zM611 216h1v4h-1zM610 201h3v15h-3zM615 184h1v11h-1zM615 202h1v1h-1zM614 195h3v7h-3zM619 190h1v3h-1zM619 195h1v16h-1zM618 193h3v2h-3zM623 175h1v7h-1zM623 194h1v4h-1zM622 182h3v12h-3zM627 182h1v11h-1zM626 158h3v24h-3zM639 181h1v1h-1zM639 203h1v4h-1zM638 182h3v21h-3zM647 169h1v22h-1zM647 193h1v2h-1zM646 191h3v2h-3zM651 173h1v2h-1zM651 192h1v14h-1zM650 175h3v17h-3zM659 160h1v3h-1zM659 181h1v6h-1zM658 163h3v18h-3zM663 146h1v13h-1zM663 164h1v3h-1zM662 159h3v5h-3zM667 158h1v1h-1zM667 160h1v16h-1zM666 159h3v1h-3zM671 143h1v7h-1zM671 160h1v4h-1zM670 150h3v10h-3zM679 146h1v2h-1zM679 165h1v1h-1zM678 148h3v17h-3zM683 139h1v10h-1zM683 151h1v3h-1zM682 149h3v2h-3zM687 142h1v2h-1zM687 150h1v5h-1zM686 144h3v6h-3zM695 153h1v2h-1zM695 158h1v7h-1zM694 155h3v3h-3z" fill="#00B0DC"/><path d="M19 392h1v13h-1zM23 384h1v7h-1zM43 427h1v12h-1zM47 389h1v38h-1zM63 418h1v6h-1zM71 440h1v1h-1zM75 425h1v13h-1zM79 406h1v18h-1zM103 429h1v4h-1zM107 427h1v1h-1zM111 412h1v15h-1zM115 394h1v17h-1zM119 362h1v30h-1zM127 367h1v2h-1zM131 365h1v1h-1zM135 362h1v2h-1zM139 360h1v2h-1zM143 331h1v28h-1zM147 315h1v14h-1zM155 307h1v6h-1zM159 292h1v14h-1zM163 261h1v30h-1zM179 267h1v35h-1zM187 248h1v21h-1zM191 216h1v30h-1zM211 237h1v10h-1zM223 238h1v4h-1zM227 224h1v13h-1zM231 204h1v19h-1zM235 177h1v25h-1zM239 162h1v14h-1zM247 181h1v8h-1zM267 241h1v1h-1zM271 230h1v10h-1zM287 257h1v1h-1zM291 241h1v14h-1zM299 241h1v9h-1zM303 213h1v26h-1zM307 203h1v8h-1zM319 203h1v1h-1zM327 206h1v3h-1zM331 180h1v20h-1zM343 180h1v11h-1zM347 173h1v6h-1zM351 157h1v15h-1zM359 163h1v4h-1zM363 156h1v6h-1zM371 123h1v34h-1zM375 112h1v10h-1zM379 103h1v8h-1zM387 90h1v14h-1zM391 73h1v16h-1zM395 41h1v30h-1zM407 41h1v10h-1zM431 141h1v69h-1zM443 179h1v33h-1zM451 132h1v45h-1zM459 124h1v10h-1zM463 120h1v2h-1zM467 102h1v16h-1zM471 98h1v3h-1zM475 81h1v17h-1zM507 190h1v44h-1zM515 159h1v50h-1zM519 140h1v17h-1zM527 172h1v20h-1zM531 154h1v19h-1zM535 148h1v4h-1zM539 130h1v16h-1zM543 94h1v34h-1zM551 112h1v2h-1zM567 146h1v27h-1zM579 189h1v6h-1zM583 175h1v11h-1zM599 211h1v16h-1zM607 216h1v14h-1zM611 202h1v13h-1zM615 196h1v5h-1zM623 183h1v10h-1zM627 159h1v22h-1zM639 183h1v19h-1zM651 176h1v15h-1zM659 164h1v16h-1zM663 160h1v3h-1zM671 151h1v8h-1zM679 149h1v15h-1zM687 145h1v4h-1zM695 156h1v1h-1z" fill="#fff"/><path d="M163 478h3v1h-3zM241 478h1v1h-1zM467 478h1v1h-1zM159 479h1v1h-1zM242 479h2v1h-2zM467 479h2v1h-2zM158 480h1v1h-1zM238 480h1v1h-1zM157 481h1v1h-1zM168 481h1v1h-1zM238 481h1v1h-1zM398 481h2v1h-2zM472 481h1v1h-1zM168 482h1v1h-1zM238 482h1v1h-1zM380 482h3v1h-3zM400 482h1v1h-1zM473 482h2v1h-2zM169 483h1v1h-1zM195 483h3v1h-3zM245 483h1v1h-1zM394 483h1v1h-1zM465 483h1v1h-1zM153 484h1v1h-1zM200 484h1v1h-1zM246 484h1v1h-1zM316 484h1v1h-1zM386 484h1v1h-1zM393 484h1v1h-1zM464 484h1v1h-1zM127 485h1v1h-1zM153 485h1v1h-1zM201 485h1v1h-1zM246 485h1v1h-1zM317 485h2v1h-2zM357 485h2v1h-2zM377 485h1v1h-1zM387 485h2v1h-2zM392 485h1v1h-1zM404 485h1v1h-1zM464 485h1v1h-1zM126 486h1v1h-1zM152 486h1v1h-1zM201 486h1v1h-1zM237 486h1v1h-1zM312 486h1v1h-1zM356 486h1v1h-1zM376 486h1v1h-1zM404 486h1v1h-1zM476 486h1v1h-1zM551 486h1v1h-1zM125 487h1v1h-1zM171 487h1v1h-1zM194 487h1v1h-1zM236 487h1v1h-1zM311 487h1v1h-1zM361 487h1v1h-1zM376 487h1v1h-1zM405 487h1v1h-1zM477 487h1v1h-1zM550 487h1v1h-1zM627 487h2v1h-2zM171 488h1v1h-1zM193 488h1v1h-1zM236 488h1v1h-1zM311 488h1v1h-1zM362 488h1v1h-1zM477 488h1v1h-1zM549 488h1v1h-1zM627 488h1v1h-1zM631 488h1v1h-1zM129 489h1v1h-1zM171 489h1v1h-1zM193 489h1v1h-1zM248 489h1v1h-1zM321 489h1v1h-1zM352 489h1v1h-1zM362 489h1v1h-1zM462 489h1v1h-1zM632 489h1v1h-1zM130 490h1v1h-1zM149 490h1v1h-1zM203 490h1v1h-1zM248 490h1v1h-1zM322 490h1v1h-1zM351 490h1v1h-1zM462 490h1v1h-1zM553 490h1v1h-1zM632 490h1v1h-1zM667 490h3v1h-3zM122 491h1v1h-1zM130 491h1v1h-1zM149 491h1v1h-1zM204 491h1v1h-1zM248 491h1v1h-1zM322 491h1v1h-1zM350 491h1v1h-1zM373 491h1v1h-1zM408 491h1v1h-1zM462 491h1v1h-1zM546 491h1v1h-1zM554 491h1v1h-1zM673 491h1v1h-1zM122 492h1v1h-1zM148 492h1v1h-1zM204 492h1v1h-1zM235 492h1v1h-1zM309 492h1v1h-1zM372 492h1v1h-1zM408 492h1v1h-1zM479 492h1v1h-1zM546 492h1v1h-1zM554 492h1v1h-1zM625 492h1v1h-1zM674 492h1v1h-1zM122 493h1v1h-1zM172 493h1v1h-1zM192 493h1v1h-1zM235 493h1v1h-1zM309 493h1v1h-1zM366 493h1v1h-1zM372 493h1v1h-1zM409 493h1v1h-1zM479 493h1v1h-1zM545 493h1v1h-1zM625 493h1v1h-1zM675 493h1v1h-1zM173 494h1v1h-1zM191 494h1v1h-1zM234 494h1v1h-1zM309 494h1v1h-1zM345 494h1v1h-1zM367 494h2v1h-2zM479 494h1v1h-1zM625 494h1v1h-1zM633 494h1v1h-1zM665 494h1v1h-1zM133 495h1v1h-1zM173 495h1v1h-1zM191 495h1v1h-1zM249 495h1v1h-1zM325 495h1v1h-1zM341 495h1v1h-1zM346 495h2v1h-2zM461 495h1v1h-1zM634 495h1v1h-1zM665 495h1v1h-1zM134 496h1v1h-1zM146 496h1v1h-1zM205 496h1v1h-1zM250 496h1v1h-1zM325 496h1v1h-1zM339 496h2v1h-2zM460 496h1v1h-1zM556 496h1v1h-1zM634 496h1v1h-1zM664 496h1v1h-1zM121 497h1v1h-1zM135 497h1v1h-1zM145 497h1v1h-1zM205 497h1v1h-1zM250 497h1v1h-1zM326 497h1v1h-1zM411 497h1v1h-1zM460 497h1v1h-1zM544 497h1v1h-1zM556 497h1v1h-1zM679 497h1v1h-1zM121 498h1v1h-1zM145 498h1v1h-1zM206 498h1v1h-1zM234 498h1v1h-1zM308 498h1v1h-1zM412 498h1v1h-1zM480 498h1v1h-1zM523 498h1v1h-1zM543 498h1v1h-1zM557 498h1v1h-1zM623 498h1v1h-1zM680 498h1v1h-1zM59 499h1v1h-1zM120 499h1v1h-1zM174 499h1v1h-1zM190 499h1v1h-1zM233 499h1v1h-1zM307 499h1v1h-1zM412 499h1v1h-1zM480 499h1v1h-1zM523 499h1v1h-1zM543 499h1v1h-1zM623 499h1v1h-1zM681 499h1v1h-1zM60 500h1v1h-1zM174 500h1v1h-1zM190 500h1v1h-1zM233 500h1v1h-1zM307 500h1v1h-1zM336 500h1v1h-1zM481 500h1v1h-1zM522 500h1v1h-1zM623 500h1v1h-1zM635 500h1v1h-1zM663 500h1v1h-1zM686 500h1v1h-1zM57 501h1v1h-1zM60 501h1v1h-1zM139 501h3v1h-3zM174 501h1v1h-1zM189 501h1v1h-1zM251 501h1v1h-1zM329 501h1v1h-1zM335 501h1v1h-1zM459 501h1v1h-1zM527 501h1v1h-1zM635 501h1v1h-1zM662 501h1v1h-1zM684 501h2v1h-2zM56 502h1v1h-1zM207 502h1v1h-1zM251 502h1v1h-1zM329 502h1v1h-1zM334 502h1v1h-1zM459 502h1v1h-1zM527 502h1v1h-1zM558 502h1v1h-1zM636 502h1v1h-1zM662 502h1v1h-1zM690 502h1v1h-1zM56 503h1v1h-1zM90 503h1v1h-1zM93 503h1v1h-1zM119 503h1v1h-1zM207 503h1v1h-1zM252 503h1v1h-1zM330 503h1v1h-1zM413 503h1v1h-1zM459 503h1v1h-1zM528 503h1v1h-1zM542 503h1v1h-1zM559 503h1v1h-1zM691 503h1v1h-1zM90 504h1v1h-1zM93 504h1v1h-1zM119 504h1v1h-1zM207 504h1v1h-1zM232 504h1v1h-1zM306 504h1v1h-1zM414 504h1v1h-1zM482 504h1v1h-1zM521 504h1v1h-1zM542 504h1v1h-1zM559 504h1v1h-1zM622 504h1v1h-1zM691 504h1v1h-1zM62 505h1v1h-1zM89 505h1v1h-1zM94 505h1v1h-1zM119 505h1v1h-1zM176 505h1v1h-1zM188 505h1v1h-1zM232 505h1v1h-1zM306 505h1v1h-1zM414 505h1v1h-1zM482 505h1v1h-1zM521 505h1v1h-1zM541 505h1v1h-1zM621 505h1v1h-1zM62 506h1v1h-1zM176 506h1v1h-1zM188 506h1v1h-1zM232 506h1v1h-1zM306 506h1v1h-1zM482 506h1v1h-1zM521 506h1v1h-1zM621 506h1v1h-1zM636 506h1v1h-1zM661 506h1v1h-1zM54 507h1v1h-1zM63 507h1v1h-1zM176 507h1v1h-1zM188 507h1v1h-1zM253 507h1v1h-1zM458 507h1v1h-1zM529 507h1v1h-1zM636 507h1v1h-1zM661 507h1v1h-1zM54 508h1v1h-1zM208 508h1v1h-1zM253 508h1v1h-1zM458 508h1v1h-1zM530 508h1v1h-1zM560 508h1v1h-1zM637 508h1v1h-1zM660 508h1v1h-1zM693 508h1v1h-1zM54 509h1v1h-1zM88 509h1v1h-1zM96 509h1v1h-1zM118 509h1v1h-1zM208 509h1v1h-1zM253 509h1v1h-1zM415 509h1v1h-1zM458 509h1v1h-1zM530 509h1v1h-1zM540 509h1v1h-1zM560 509h1v1h-1zM694 509h1v1h-1zM87 510h1v1h-1zM96 510h1v1h-1zM118 510h1v1h-1zM209 510h1v1h-1zM231 510h1v1h-1zM305 510h1v1h-1zM415 510h1v1h-1zM483 510h1v1h-1zM520 510h1v1h-1zM540 510h1v1h-1zM560 510h1v1h-1zM620 510h1v1h-1zM694 510h1v1h-1zM63 511h1v1h-1zM87 511h1v1h-1zM96 511h1v1h-1zM118 511h1v1h-1zM177 511h1v1h-1zM187 511h1v1h-1zM231 511h1v1h-1zM305 511h1v1h-1zM416 511h1v1h-1zM483 511h1v1h-1zM519 511h1v1h-1zM540 511h1v1h-1zM620 511h1v1h-1zM64 512h1v1h-1zM178 512h1v1h-1zM186 512h1v1h-1zM231 512h1v1h-1zM304 512h1v1h-1zM483 512h1v1h-1zM519 512h1v1h-1zM620 512h1v1h-1zM637 512h1v1h-1zM659 512h1v1h-1zM53 513h1v1h-1zM64 513h1v1h-1zM178 513h1v1h-1zM186 513h1v1h-1zM254 513h1v1h-1zM457 513h1v1h-1zM532 513h1v1h-1zM638 513h1v1h-1zM659 513h1v1h-1zM53 514h1v1h-1zM210 514h1v1h-1zM254 514h1v1h-1zM457 514h1v1h-1zM532 514h1v1h-1zM561 514h1v1h-1zM638 514h1v1h-1zM659 514h1v1h-1zM696 514h1v1h-1zM53 515h1v1h-1zM86 515h1v1h-1zM97 515h1v1h-1zM118 515h1v1h-1zM210 515h1v1h-1zM255 515h1v1h-1zM416 515h1v1h-1zM457 515h1v1h-1zM533 515h1v1h-1zM537 515h1v1h-1zM561 515h1v1h-1zM696 515h1v1h-1zM86 516h1v1h-1zM97 516h1v1h-1zM117 516h1v1h-1zM210 516h1v1h-1zM230 516h1v1h-1zM303 516h1v1h-1zM416 516h1v1h-1zM484 516h1v1h-1zM518 516h1v1h-1zM537 516h1v1h-1zM562 516h1v1h-1zM619 516h1v1h-1zM696 516h1v1h-1zM64 517h1v1h-1zM86 517h1v1h-1zM98 517h1v1h-1zM117 517h1v1h-1zM180 517h1v1h-1zM184 517h1v1h-1zM230 517h1v1h-1zM303 517h1v1h-1zM417 517h1v1h-1zM484 517h1v1h-1zM518 517h1v1h-1zM536 517h1v1h-1zM619 517h1v1h-1zM65 518h1v1h-1zM181 518h1v1h-1zM184 518h1v1h-1zM229 518h1v1h-1zM303 518h1v1h-1zM484 518h1v1h-1zM518 518h1v1h-1zM618 518h1v1h-1zM638 518h1v1h-1zM658 518h1v1h-1zM52 519h1v1h-1zM65 519h1v1h-1zM181 519h1v1h-1zM184 519h1v1h-1zM256 519h1v1h-1zM456 519h1v1h-1zM639 519h1v1h-1zM658 519h1v1h-1zM52 520h1v1h-1zM211 520h1v1h-1zM256 520h1v1h-1zM456 520h1v1h-1zM562 520h1v1h-1zM639 520h1v1h-1zM657 520h1v1h-1zM697 520h1v1h-1zM52 521h1v1h-1zM85 521h1v1h-1zM99 521h1v1h-1zM117 521h1v1h-1zM211 521h1v1h-1zM256 521h1v1h-1zM417 521h1v1h-1zM456 521h1v1h-1zM563 521h1v1h-1zM697 521h1v1h-1zM85 522h1v1h-1zM99 522h1v1h-1zM117 522h1v1h-1zM212 522h1v1h-1zM229 522h1v1h-1zM302 522h1v1h-1zM418 522h1v1h-1zM485 522h1v1h-1zM517 522h1v1h-1zM563 522h1v1h-1zM617 522h1v1h-1zM697 522h1v1h-1zM65 523h1v1h-1zM85 523h1v1h-1zM99 523h1v1h-1zM116 523h1v1h-1zM228 523h1v1h-1zM302 523h1v1h-1zM418 523h1v1h-1zM485 523h1v1h-1zM517 523h1v1h-1zM617 523h1v1h-1zM65 524h1v1h-1zM228 524h1v1h-1zM302 524h1v1h-1zM485 524h1v1h-1zM516 524h1v1h-1zM617 524h1v1h-1zM640 524h1v1h-1zM657 524h1v1h-1zM51 525h1v1h-1zM66 525h1v1h-1zM257 525h1v1h-1zM455 525h1v1h-1zM640 525h1v1h-1zM656 525h1v1h-1zM51 526h1v1h-1zM213 526h1v1h-1zM257 526h1v1h-1zM455 526h1v1h-1zM564 526h1v1h-1zM640 526h1v1h-1zM656 526h1v1h-1zM698 526h1v1h-1zM51 527h1v1h-1zM84 527h1v1h-1zM100 527h1v1h-1zM116 527h1v1h-1zM213 527h1v1h-1zM257 527h1v1h-1zM418 527h1v1h-1zM455 527h1v1h-1zM564 527h1v1h-1zM698 527h1v1h-1zM84 528h1v1h-1zM100 528h1v1h-1zM116 528h1v1h-1zM213 528h1v1h-1zM227 528h1v1h-1zM301 528h1v1h-1zM419 528h1v1h-1zM486 528h1v1h-1zM516 528h1v1h-1zM564 528h1v1h-1zM616 528h1v1h-1zM698 528h1v1h-1zM66 529h1v1h-1zM84 529h1v1h-1zM100 529h1v1h-1zM116 529h1v1h-1zM227 529h1v1h-1zM300 529h1v1h-1zM419 529h1v1h-1zM486 529h1v1h-1zM515 529h1v1h-1zM616 529h1v1h-1zM66 530h1v1h-1zM227 530h1v1h-1zM300 530h1v1h-1zM486 530h1v1h-1zM515 530h1v1h-1zM615 530h1v1h-1zM641 530h1v1h-1zM655 530h1v1h-1zM50 531h1v1h-1zM67 531h1v1h-1zM258 531h1v1h-1zM454 531h1v1h-1zM641 531h1v1h-1zM655 531h1v1h-1zM50 532h1v1h-1zM214 532h1v1h-1zM258 532h1v1h-1zM453 532h1v1h-1zM566 532h1v1h-1zM597 532h1v1h-1zM641 532h1v1h-1zM655 532h1v1h-1zM699 532h1v1h-1zM49 533h1v1h-1zM83 533h1v1h-1zM101 533h1v1h-1zM115 533h1v1h-1zM214 533h1v1h-1zM258 533h1v1h-1zM420 533h1v1h-1zM453 533h1v1h-1zM566 533h1v1h-1zM594 533h1v1h-1zM598 533h1v1h-1zM699 533h1v1h-1zM83 534h1v1h-1zM101 534h1v1h-1zM115 534h1v1h-1zM215 534h1v1h-1zM225 534h1v1h-1zM299 534h1v1h-1zM420 534h1v1h-1zM487 534h1v1h-1zM514 534h1v1h-1zM566 534h1v1h-1zM593 534h1v1h-1zM599 534h1v1h-1zM614 534h1v1h-1zM699 534h1v1h-1zM67 535h1v1h-1zM83 535h1v1h-1zM101 535h1v1h-1zM115 535h1v1h-1zM225 535h1v1h-1zM299 535h1v1h-1zM420 535h1v1h-1zM487 535h1v1h-1zM514 535h1v1h-1zM592 535h1v1h-1zM614 535h1v1h-1zM67 536h1v1h-1zM225 536h1v1h-1zM299 536h1v1h-1zM487 536h1v1h-1zM514 536h1v1h-1zM614 536h1v1h-1zM642 536h1v1h-1zM653 536h1v1h-1zM49 537h1v1h-1zM68 537h1v1h-1zM259 537h1v1h-1zM452 537h1v1h-1zM643 537h1v1h-1zM653 537h1v1h-1zM48 538h1v1h-1zM217 538h1v1h-1zM259 538h1v1h-1zM452 538h1v1h-1zM567 538h1v1h-1zM600 538h1v1h-1zM643 538h1v1h-1zM652 538h1v1h-1zM700 538h1v1h-1zM48 539h1v1h-1zM82 539h1v1h-1zM102 539h1v1h-1zM114 539h1v1h-1zM218 539h1v1h-1zM259 539h1v1h-1zM421 539h1v1h-1zM452 539h1v1h-1zM568 539h1v1h-1zM590 539h1v1h-1zM600 539h1v1h-1zM700 539h1v1h-1zM32 540h3v1h-3zM82 540h1v1h-1zM102 540h1v1h-1zM114 540h1v1h-1zM218 540h1v1h-1zM223 540h1v1h-1zM298 540h1v1h-1zM421 540h1v1h-1zM488 540h1v1h-1zM513 540h1v1h-1zM568 540h1v1h-1zM590 540h1v1h-1zM601 540h1v1h-1zM613 540h1v1h-1zM701 540h1v1h-1zM68 541h1v1h-1zM82 541h1v1h-1zM103 541h1v1h-1zM113 541h1v1h-1zM222 541h2v1h-2zM297 541h1v1h-1zM421 541h1v1h-1zM488 541h1v1h-1zM513 541h1v1h-1zM590 541h1v1h-1zM613 541h1v1h-1zM69 542h1v1h-1zM297 542h1v1h-1zM488 542h1v1h-1zM513 542h1v1h-1zM612 542h1v1h-1zM645 542h1v1h-1zM651 542h1v1h-1zM30 543h1v1h-1zM36 543h1v1h-1zM47 543h1v1h-1zM69 543h1v1h-1zM260 543h1v1h-1zM451 543h1v1h-1zM645 543h1v1h-1zM650 543h1v1h-1zM29 544h1v1h-1zM37 544h1v1h-1zM47 544h1v1h-1zM260 544h1v1h-1zM450 544h1v1h-1zM569 544h1v1h-1zM602 544h1v1h-1zM646 544h1v1h-1zM649 544h1v1h-1zM702 544h1v1h-1zM29 545h1v1h-1zM37 545h1v1h-1zM47 545h1v1h-1zM81 545h1v1h-1zM104 545h1v1h-1zM113 545h1v1h-1zM260 545h1v1h-1zM422 545h1v1h-1zM450 545h1v1h-1zM569 545h1v1h-1zM589 545h1v1h-1zM602 545h1v1h-1zM702 545h1v1h-1zM81 546h1v1h-1zM104 546h1v1h-1zM113 546h1v1h-1zM296 546h1v1h-1zM422 546h1v1h-1zM489 546h1v1h-1zM512 546h1v1h-1zM570 546h1v1h-1zM588 546h1v1h-1zM602 546h1v1h-1zM611 546h1v1h-1zM702 546h1v1h-1zM70 547h1v1h-1zM81 547h1v1h-1zM104 547h1v1h-1zM112 547h1v1h-1zM296 547h1v1h-1zM422 547h1v1h-1zM489 547h1v1h-1zM512 547h1v1h-1zM588 547h1v1h-1zM611 547h1v1h-1zM70 548h1v1h-1zM295 548h1v1h-1zM489 548h1v1h-1zM512 548h1v1h-1zM611 548h1v1h-1zM27 549h1v1h-1zM39 549h1v1h-1zM45 549h1v1h-1zM70 549h1v1h-1zM261 549h1v1h-1zM448 549h1v1h-1zM27 550h1v1h-1zM40 550h1v1h-1zM44 550h1v1h-1zM261 550h1v1h-1zM447 550h1v1h-1zM571 550h1v1h-1zM605 550h1v1h-1zM703 550h1v1h-1zM27 551h1v1h-1zM41 551h1v1h-1zM44 551h1v1h-1zM80 551h1v1h-1zM105 551h1v1h-1zM112 551h1v1h-1zM261 551h1v1h-1zM423 551h1v1h-1zM447 551h1v1h-1zM571 551h2v1h-2zM587 551h1v1h-1zM606 551h1v1h-1zM703 551h1v1h-1zM80 552h1v1h-1zM105 552h1v1h-1zM111 552h1v1h-1zM294 552h1v1h-1zM423 552h1v1h-1zM441 552h3v1h-3zM490 552h1v1h-1zM511 552h1v1h-1zM586 552h1v1h-1zM607 552h1v1h-1zM703 552h1v1h-1zM71 553h1v1h-1zM79 553h1v1h-1zM106 553h1v1h-1zM111 553h1v1h-1zM293 553h1v1h-1zM423 553h1v1h-1zM490 553h1v1h-1zM511 553h1v1h-1zM586 553h1v1h-1zM71 554h1v1h-1zM293 554h1v1h-1zM438 554h1v1h-1zM490 554h1v1h-1zM511 554h1v1h-1zM576 554h1v1h-1zM25 555h1v1h-1zM71 555h1v1h-1zM262 555h1v1h-1zM437 555h1v1h-1zM577 555h1v1h-1zM3 556h1v1h-1zM24 556h1v1h-1zM262 556h1v1h-1zM437 556h1v1h-1zM577 556h1v1h-1zM704 556h1v1h-1zM3 557h1v1h-1zM24 557h1v1h-1zM78 557h1v1h-1zM107 557h2v1h-2zM263 557h1v1h-1zM279 557h1v1h-1zM424 557h1v1h-1zM582 557h2v1h-2zM704 557h1v1h-1zM4 558h1v1h-1zM78 558h1v1h-1zM107 558h1v1h-1zM278 558h1v1h-1zM291 558h1v1h-1zM424 558h1v1h-1zM491 558h1v1h-1zM509 558h1v1h-1zM581 558h1v1h-1zM705 558h1v1h-1zM73 559h1v1h-1zM77 559h1v1h-1zM278 559h1v1h-1zM283 559h3v1h-3zM289 559h2v1h-2zM425 559h1v1h-1zM491 559h1v1h-1zM509 559h1v1h-1zM73 560h1v1h-1zM435 560h1v1h-1zM491 560h1v1h-1zM508 560h1v1h-1zM22 561h1v1h-1zM74 561h1v1h-1zM264 561h1v1h-1zM434 561h1v1h-1zM6 562h1v1h-1zM21 562h1v1h-1zM264 562h1v1h-1zM434 562h1v1h-1zM706 562h1v1h-1zM6 563h1v1h-1zM21 563h1v1h-1zM76 563h1v1h-1zM264 563h1v1h-1zM275 563h1v1h-1zM426 563h1v1h-1zM706 563h1v1h-1zM7 564h1v1h-1zM75 564h1v1h-1zM274 564h1v1h-1zM426 564h1v1h-1zM493 564h1v1h-1zM507 564h1v1h-1zM706 564h1v1h-1zM75 565h1v1h-1zM274 565h1v1h-1zM426 565h1v1h-1zM493 565h1v1h-1zM506 565h1v1h-1zM430 566h2v1h-2zM494 566h1v1h-1zM506 566h1v1h-1zM18 567h1v1h-1zM266 567h1v1h-1zM429 567h1v1h-1zM10 568h1v1h-1zM16 568h2v1h-2zM266 568h1v1h-1zM707 568h1v1h-1zM11 569h2v1h-2zM266 569h1v1h-1zM271 569h1v1h-1zM708 569h1v1h-1zM269 570h2v1h-2zM495 570h3v1h-3zM502 570h2v1h-2zM708 570h1v1h-1zM501 571h1v1h-1zM710 574h1v1h-1zM711 575h1v1h-1zM729 575h2v1h-2zM712 576h1v1h-1zM728 576h1v1h-1zM722 577h3v1h-3zM716 578h3v1h-3z" fill="#FF0000"/><path d="M235 474h3v1h-3zM235 475h1v1h-1zM238 475h2v1h-2zM234 476h1v1h-1zM239 476h1v1h-1zM395 476h1v1h-1zM159 477h5v1h-5zM234 477h1v1h-1zM240 477h1v1h-1zM394 477h1v1h-1zM396 477h1v1h-1zM158 478h1v1h-1zM164 478h1v1h-1zM234 478h1v1h-1zM240 478h1v1h-1zM394 478h1v1h-1zM396 478h1v1h-1zM459 478h2v1h-2zM467 478h1v1h-1zM119 479h1v1h-1zM151 479h2v1h-2zM157 479h1v1h-1zM164 479h1v1h-1zM194 479h2v1h-2zM233 479h1v1h-1zM240 479h1v1h-1zM351 479h1v1h-1zM375 479h3v1h-3zM393 479h1v1h-1zM397 479h1v1h-1zM459 479h1v1h-1zM461 479h2v1h-2zM465 479h2v1h-2zM468 479h1v1h-1zM627 479h1v1h-1zM119 480h2v1h-2zM150 480h1v1h-1zM153 480h2v1h-2zM156 480h1v1h-1zM165 480h1v1h-1zM191 480h3v1h-3zM195 480h1v1h-1zM233 480h1v1h-1zM241 480h1v1h-1zM351 480h2v1h-2zM375 480h1v1h-1zM378 480h2v1h-2zM392 480h1v1h-1zM397 480h1v1h-1zM459 480h1v1h-1zM463 480h2v1h-2zM468 480h1v1h-1zM626 480h2v1h-2zM119 481h2v1h-2zM150 481h1v1h-1zM155 481h1v1h-1zM165 481h1v1h-1zM191 481h1v1h-1zM196 481h1v1h-1zM233 481h1v1h-1zM241 481h1v1h-1zM311 481h1v1h-1zM350 481h1v1h-1zM352 481h1v1h-1zM374 481h1v1h-1zM380 481h1v1h-1zM392 481h1v1h-1zM398 481h1v1h-1zM459 481h1v1h-1zM469 481h1v1h-1zM626 481h2v1h-2zM118 482h1v1h-1zM121 482h1v1h-1zM149 482h1v1h-1zM166 482h1v1h-1zM190 482h1v1h-1zM196 482h1v1h-1zM233 482h1v1h-1zM241 482h1v1h-1zM310 482h1v1h-1zM312 482h1v1h-1zM350 482h1v1h-1zM353 482h1v1h-1zM374 482h1v1h-1zM380 482h1v1h-1zM391 482h1v1h-1zM398 482h1v1h-1zM458 482h1v1h-1zM469 482h1v1h-1zM625 482h1v1h-1zM628 482h1v1h-1zM118 483h1v1h-1zM121 483h1v1h-1zM149 483h1v1h-1zM166 483h1v1h-1zM190 483h1v1h-1zM197 483h1v1h-1zM232 483h1v1h-1zM242 483h1v1h-1zM308 483h2v1h-2zM312 483h1v1h-1zM350 483h1v1h-1zM354 483h1v1h-1zM373 483h1v1h-1zM381 483h1v1h-1zM390 483h1v1h-1zM399 483h1v1h-1zM458 483h1v1h-1zM470 483h1v1h-1zM625 483h1v1h-1zM628 483h1v1h-1zM118 484h1v1h-1zM122 484h1v1h-1zM148 484h1v1h-1zM167 484h1v1h-1zM189 484h1v1h-1zM197 484h1v1h-1zM232 484h1v1h-1zM242 484h1v1h-1zM307 484h1v1h-1zM313 484h1v1h-1zM350 484h1v1h-1zM354 484h1v1h-1zM373 484h1v1h-1zM381 484h1v1h-1zM390 484h1v1h-1zM399 484h1v1h-1zM458 484h1v1h-1zM470 484h1v1h-1zM546 484h2v1h-2zM624 484h1v1h-1zM628 484h1v1h-1zM118 485h1v1h-1zM122 485h1v1h-1zM148 485h1v1h-1zM167 485h1v1h-1zM189 485h1v1h-1zM198 485h1v1h-1zM232 485h1v1h-1zM242 485h1v1h-1zM307 485h1v1h-1zM314 485h1v1h-1zM349 485h1v1h-1zM355 485h1v1h-1zM372 485h1v1h-1zM382 485h1v1h-1zM389 485h1v1h-1zM400 485h1v1h-1zM458 485h1v1h-1zM471 485h3v1h-3zM543 485h3v1h-3zM548 485h1v1h-1zM624 485h1v1h-1zM628 485h1v1h-1zM55 486h1v1h-1zM118 486h1v1h-1zM123 486h1v1h-1zM147 486h1v1h-1zM167 486h1v1h-1zM188 486h1v1h-1zM198 486h1v1h-1zM231 486h1v1h-1zM243 486h1v1h-1zM306 486h1v1h-1zM314 486h1v1h-1zM349 486h1v1h-1zM356 486h2v1h-2zM372 486h1v1h-1zM382 486h1v1h-1zM388 486h1v1h-1zM400 486h1v1h-1zM458 486h1v1h-1zM474 486h2v1h-2zM543 486h1v1h-1zM548 486h1v1h-1zM623 486h1v1h-1zM629 486h1v1h-1zM55 487h1v1h-1zM118 487h1v1h-1zM124 487h1v1h-1zM147 487h1v1h-1zM168 487h1v1h-1zM188 487h1v1h-1zM199 487h1v1h-1zM231 487h1v1h-1zM243 487h1v1h-1zM306 487h1v1h-1zM315 487h2v1h-2zM349 487h1v1h-1zM358 487h1v1h-1zM371 487h1v1h-1zM383 487h3v1h-3zM388 487h1v1h-1zM401 487h1v1h-1zM458 487h1v1h-1zM475 487h1v1h-1zM542 487h1v1h-1zM549 487h1v1h-1zM623 487h1v1h-1zM629 487h1v1h-1zM54 488h2v1h-2zM117 488h1v1h-1zM125 488h1v1h-1zM146 488h1v1h-1zM168 488h1v1h-1zM187 488h1v1h-1zM199 488h1v1h-1zM231 488h1v1h-1zM243 488h1v1h-1zM306 488h1v1h-1zM317 488h2v1h-2zM349 488h1v1h-1zM359 488h1v1h-1zM371 488h1v1h-1zM386 488h2v1h-2zM401 488h1v1h-1zM457 488h1v1h-1zM475 488h1v1h-1zM542 488h1v1h-1zM550 488h1v1h-1zM622 488h1v1h-1zM629 488h1v1h-1zM667 488h1v1h-1zM54 489h1v1h-1zM56 489h1v1h-1zM117 489h1v1h-1zM125 489h1v1h-1zM146 489h1v1h-1zM168 489h1v1h-1zM187 489h1v1h-1zM200 489h1v1h-1zM231 489h1v1h-1zM244 489h1v1h-1zM305 489h1v1h-1zM319 489h1v1h-1zM348 489h1v1h-1zM359 489h1v1h-1zM371 489h1v1h-1zM402 489h1v1h-1zM457 489h1v1h-1zM476 489h1v1h-1zM542 489h1v1h-1zM550 489h1v1h-1zM622 489h1v1h-1zM629 489h1v1h-1zM659 489h2v1h-2zM666 489h1v1h-1zM668 489h2v1h-2zM54 490h1v1h-1zM56 490h1v1h-1zM117 490h1v1h-1zM126 490h1v1h-1zM145 490h1v1h-1zM168 490h1v1h-1zM187 490h1v1h-1zM200 490h1v1h-1zM231 490h1v1h-1zM244 490h1v1h-1zM305 490h1v1h-1zM319 490h1v1h-1zM348 490h1v1h-1zM360 490h1v1h-1zM370 490h1v1h-1zM402 490h1v1h-1zM457 490h1v1h-1zM476 490h1v1h-1zM541 490h1v1h-1zM551 490h1v1h-1zM622 490h1v1h-1zM630 490h1v1h-1zM659 490h1v1h-1zM661 490h2v1h-2zM664 490h2v1h-2zM670 490h1v1h-1zM54 491h1v1h-1zM56 491h1v1h-1zM117 491h1v1h-1zM127 491h1v1h-1zM145 491h1v1h-1zM169 491h1v1h-1zM187 491h1v1h-1zM200 491h1v1h-1zM230 491h1v1h-1zM245 491h1v1h-1zM305 491h1v1h-1zM320 491h1v1h-1zM335 491h1v1h-1zM348 491h1v1h-1zM360 491h1v1h-1zM370 491h1v1h-1zM403 491h1v1h-1zM457 491h1v1h-1zM476 491h1v1h-1zM541 491h1v1h-1zM551 491h1v1h-1zM621 491h1v1h-1zM630 491h1v1h-1zM659 491h1v1h-1zM663 491h1v1h-1zM671 491h1v1h-1zM53 492h1v1h-1zM56 492h1v1h-1zM117 492h1v1h-1zM127 492h1v1h-1zM144 492h1v1h-1zM169 492h1v1h-1zM187 492h1v1h-1zM200 492h1v1h-1zM230 492h1v1h-1zM245 492h1v1h-1zM305 492h1v1h-1zM320 492h1v1h-1zM335 492h3v1h-3zM348 492h1v1h-1zM361 492h1v1h-1zM369 492h1v1h-1zM403 492h1v1h-1zM457 492h1v1h-1zM476 492h1v1h-1zM519 492h1v1h-1zM541 492h1v1h-1zM551 492h1v1h-1zM621 492h1v1h-1zM630 492h1v1h-1zM659 492h1v1h-1zM671 492h1v1h-1zM687 492h1v1h-1zM53 493h1v1h-1zM56 493h1v1h-1zM117 493h1v1h-1zM128 493h1v1h-1zM144 493h1v1h-1zM169 493h1v1h-1zM186 493h1v1h-1zM201 493h1v1h-1zM230 493h1v1h-1zM245 493h1v1h-1zM304 493h1v1h-1zM321 493h1v1h-1zM334 493h1v1h-1zM338 493h1v1h-1zM347 493h1v1h-1zM361 493h1v1h-1zM369 493h1v1h-1zM404 493h2v1h-2zM457 493h1v1h-1zM476 493h1v1h-1zM519 493h2v1h-2zM541 493h1v1h-1zM552 493h1v1h-1zM620 493h1v1h-1zM630 493h1v1h-1zM658 493h1v1h-1zM672 493h1v1h-1zM687 493h1v1h-1zM53 494h1v1h-1zM56 494h1v1h-1zM116 494h1v1h-1zM128 494h1v1h-1zM143 494h1v1h-1zM169 494h1v1h-1zM186 494h1v1h-1zM201 494h1v1h-1zM230 494h1v1h-1zM246 494h1v1h-1zM304 494h1v1h-1zM321 494h1v1h-1zM334 494h1v1h-1zM339 494h1v1h-1zM347 494h1v1h-1zM362 494h1v1h-1zM368 494h1v1h-1zM406 494h1v1h-1zM457 494h1v1h-1zM477 494h1v1h-1zM518 494h1v1h-1zM521 494h1v1h-1zM540 494h1v1h-1zM552 494h1v1h-1zM620 494h1v1h-1zM631 494h1v1h-1zM658 494h1v1h-1zM672 494h1v1h-1zM686 494h2v1h-2zM52 495h1v1h-1zM57 495h1v1h-1zM87 495h1v1h-1zM116 495h1v1h-1zM129 495h1v1h-1zM143 495h1v1h-1zM169 495h1v1h-1zM186 495h1v1h-1zM201 495h1v1h-1zM230 495h1v1h-1zM246 495h1v1h-1zM304 495h1v1h-1zM321 495h1v1h-1zM334 495h1v1h-1zM340 495h2v1h-2zM346 495h1v1h-1zM362 495h1v1h-1zM368 495h1v1h-1zM407 495h1v1h-1zM456 495h1v1h-1zM477 495h1v1h-1zM518 495h1v1h-1zM522 495h1v1h-1zM540 495h1v1h-1zM552 495h1v1h-1zM620 495h1v1h-1zM631 495h1v1h-1zM658 495h1v1h-1zM673 495h1v1h-1zM686 495h1v1h-1zM688 495h1v1h-1zM52 496h1v1h-1zM57 496h1v1h-1zM87 496h1v1h-1zM116 496h1v1h-1zM129 496h1v1h-1zM143 496h1v1h-1zM170 496h1v1h-1zM186 496h1v1h-1zM202 496h1v1h-1zM230 496h1v1h-1zM247 496h1v1h-1zM303 496h1v1h-1zM322 496h1v1h-1zM333 496h1v1h-1zM342 496h1v1h-1zM344 496h2v1h-2zM363 496h3v1h-3zM367 496h1v1h-1zM408 496h1v1h-1zM456 496h1v1h-1zM477 496h1v1h-1zM518 496h1v1h-1zM523 496h1v1h-1zM540 496h1v1h-1zM552 496h1v1h-1zM619 496h1v1h-1zM631 496h1v1h-1zM658 496h1v1h-1zM673 496h1v1h-1zM686 496h1v1h-1zM688 496h1v1h-1zM52 497h1v1h-1zM57 497h1v1h-1zM86 497h1v1h-1zM88 497h1v1h-1zM116 497h1v1h-1zM130 497h1v1h-1zM142 497h1v1h-1zM170 497h1v1h-1zM186 497h1v1h-1zM202 497h1v1h-1zM229 497h1v1h-1zM247 497h1v1h-1zM303 497h1v1h-1zM322 497h1v1h-1zM333 497h1v1h-1zM343 497h1v1h-1zM366 497h2v1h-2zM408 497h1v1h-1zM456 497h1v1h-1zM477 497h1v1h-1zM518 497h1v1h-1zM523 497h1v1h-1zM539 497h1v1h-1zM553 497h1v1h-1zM619 497h1v1h-1zM631 497h1v1h-1zM658 497h1v1h-1zM673 497h1v1h-1zM685 497h1v1h-1zM688 497h1v1h-1zM52 498h1v1h-1zM57 498h1v1h-1zM86 498h1v1h-1zM88 498h1v1h-1zM116 498h1v1h-1zM130 498h1v1h-1zM142 498h1v1h-1zM170 498h1v1h-1zM186 498h1v1h-1zM202 498h1v1h-1zM229 498h1v1h-1zM247 498h1v1h-1zM303 498h1v1h-1zM323 498h1v1h-1zM333 498h1v1h-1zM409 498h1v1h-1zM456 498h1v1h-1zM477 498h1v1h-1zM517 498h1v1h-1zM523 498h1v1h-1zM539 498h1v1h-1zM553 498h1v1h-1zM619 498h1v1h-1zM631 498h1v1h-1zM658 498h1v1h-1zM674 498h1v1h-1zM685 498h1v1h-1zM688 498h1v1h-1zM51 499h1v1h-1zM57 499h1v1h-1zM85 499h1v1h-1zM89 499h1v1h-1zM116 499h1v1h-1zM131 499h3v1h-3zM141 499h1v1h-1zM170 499h1v1h-1zM186 499h1v1h-1zM202 499h1v1h-1zM229 499h1v1h-1zM247 499h1v1h-1zM303 499h1v1h-1zM323 499h1v1h-1zM333 499h1v1h-1zM410 499h1v1h-1zM456 499h1v1h-1zM477 499h1v1h-1zM517 499h1v1h-1zM524 499h1v1h-1zM539 499h1v1h-1zM553 499h1v1h-1zM618 499h1v1h-1zM632 499h1v1h-1zM658 499h1v1h-1zM674 499h1v1h-1zM685 499h1v1h-1zM688 499h1v1h-1zM51 500h1v1h-1zM57 500h1v1h-1zM85 500h1v1h-1zM89 500h1v1h-1zM115 500h1v1h-1zM134 500h2v1h-2zM141 500h1v1h-1zM171 500h1v1h-1zM185 500h1v1h-1zM203 500h1v1h-1zM229 500h1v1h-1zM248 500h1v1h-1zM302 500h1v1h-1zM323 500h1v1h-1zM332 500h1v1h-1zM410 500h1v1h-1zM456 500h1v1h-1zM478 500h1v1h-1zM517 500h1v1h-1zM524 500h1v1h-1zM539 500h1v1h-1zM553 500h1v1h-1zM618 500h1v1h-1zM632 500h1v1h-1zM657 500h1v1h-1zM675 500h1v1h-1zM678 500h2v1h-2zM685 500h1v1h-1zM689 500h1v1h-1zM51 501h1v1h-1zM58 501h1v1h-1zM85 501h1v1h-1zM90 501h1v1h-1zM115 501h1v1h-1zM136 501h1v1h-1zM141 501h1v1h-1zM171 501h1v1h-1zM185 501h1v1h-1zM203 501h1v1h-1zM229 501h1v1h-1zM248 501h1v1h-1zM302 501h1v1h-1zM324 501h1v1h-1zM332 501h1v1h-1zM411 501h1v1h-1zM455 501h1v1h-1zM478 501h1v1h-1zM516 501h1v1h-1zM524 501h1v1h-1zM538 501h1v1h-1zM554 501h1v1h-1zM618 501h1v1h-1zM632 501h1v1h-1zM657 501h1v1h-1zM675 501h3v1h-3zM680 501h1v1h-1zM684 501h1v1h-1zM689 501h1v1h-1zM51 502h1v1h-1zM58 502h1v1h-1zM84 502h1v1h-1zM90 502h1v1h-1zM115 502h1v1h-1zM137 502h1v1h-1zM140 502h1v1h-1zM171 502h1v1h-1zM185 502h1v1h-1zM203 502h1v1h-1zM229 502h1v1h-1zM248 502h1v1h-1zM302 502h1v1h-1zM324 502h1v1h-1zM332 502h1v1h-1zM411 502h1v1h-1zM455 502h1v1h-1zM478 502h1v1h-1zM516 502h1v1h-1zM524 502h1v1h-1zM538 502h1v1h-1zM554 502h1v1h-1zM618 502h1v1h-1zM632 502h1v1h-1zM657 502h1v1h-1zM681 502h1v1h-1zM684 502h1v1h-1zM689 502h1v1h-1zM51 503h1v1h-1zM58 503h1v1h-1zM84 503h1v1h-1zM91 503h1v1h-1zM115 503h1v1h-1zM137 503h1v1h-1zM140 503h1v1h-1zM171 503h1v1h-1zM185 503h1v1h-1zM203 503h1v1h-1zM228 503h1v1h-1zM248 503h1v1h-1zM302 503h1v1h-1zM325 503h1v1h-1zM331 503h1v1h-1zM411 503h1v1h-1zM455 503h1v1h-1zM478 503h1v1h-1zM516 503h1v1h-1zM525 503h1v1h-1zM538 503h1v1h-1zM554 503h1v1h-1zM617 503h1v1h-1zM632 503h1v1h-1zM657 503h1v1h-1zM681 503h1v1h-1zM684 503h1v1h-1zM689 503h1v1h-1zM50 504h1v1h-1zM58 504h1v1h-1zM83 504h1v1h-1zM91 504h1v1h-1zM115 504h1v1h-1zM138 504h2v1h-2zM171 504h1v1h-1zM185 504h1v1h-1zM204 504h1v1h-1zM228 504h1v1h-1zM248 504h1v1h-1zM302 504h1v1h-1zM325 504h1v1h-1zM331 504h1v1h-1zM411 504h1v1h-1zM455 504h1v1h-1zM478 504h1v1h-1zM516 504h1v1h-1zM525 504h1v1h-1zM538 504h1v1h-1zM554 504h1v1h-1zM617 504h1v1h-1zM632 504h1v1h-1zM657 504h1v1h-1zM682 504h2v1h-2zM689 504h1v1h-1zM50 505h1v1h-1zM58 505h1v1h-1zM83 505h1v1h-1zM91 505h1v1h-1zM115 505h1v1h-1zM139 505h1v1h-1zM172 505h1v1h-1zM185 505h1v1h-1zM204 505h1v1h-1zM228 505h1v1h-1zM249 505h1v1h-1zM302 505h1v1h-1zM325 505h1v1h-1zM330 505h1v1h-1zM412 505h1v1h-1zM455 505h1v1h-1zM479 505h1v1h-1zM515 505h1v1h-1zM525 505h1v1h-1zM537 505h1v1h-1zM555 505h1v1h-1zM617 505h1v1h-1zM632 505h1v1h-1zM657 505h1v1h-1zM683 505h1v1h-1zM689 505h1v1h-1zM50 506h1v1h-1zM58 506h1v1h-1zM83 506h1v1h-1zM92 506h1v1h-1zM114 506h1v1h-1zM172 506h1v1h-1zM185 506h1v1h-1zM204 506h1v1h-1zM228 506h1v1h-1zM249 506h1v1h-1zM301 506h1v1h-1zM326 506h1v1h-1zM329 506h1v1h-1zM412 506h1v1h-1zM455 506h1v1h-1zM479 506h1v1h-1zM515 506h1v1h-1zM525 506h1v1h-1zM537 506h1v1h-1zM555 506h1v1h-1zM617 506h1v1h-1zM633 506h1v1h-1zM657 506h1v1h-1zM690 506h1v1h-1zM50 507h1v1h-1zM59 507h1v1h-1zM83 507h1v1h-1zM92 507h1v1h-1zM114 507h1v1h-1zM172 507h1v1h-1zM184 507h1v1h-1zM204 507h1v1h-1zM228 507h1v1h-1zM249 507h1v1h-1zM301 507h1v1h-1zM326 507h1v1h-1zM329 507h1v1h-1zM412 507h1v1h-1zM454 507h1v1h-1zM479 507h1v1h-1zM515 507h1v1h-1zM526 507h1v1h-1zM537 507h1v1h-1zM555 507h1v1h-1zM616 507h1v1h-1zM633 507h1v1h-1zM657 507h1v1h-1zM690 507h1v1h-1zM50 508h1v1h-1zM59 508h1v1h-1zM83 508h1v1h-1zM92 508h1v1h-1zM114 508h1v1h-1zM172 508h1v1h-1zM184 508h1v1h-1zM204 508h1v1h-1zM228 508h1v1h-1zM249 508h1v1h-1zM301 508h1v1h-1zM327 508h2v1h-2zM412 508h1v1h-1zM454 508h1v1h-1zM479 508h1v1h-1zM515 508h1v1h-1zM526 508h1v1h-1zM537 508h1v1h-1zM556 508h1v1h-1zM616 508h1v1h-1zM633 508h1v1h-1zM656 508h1v1h-1zM690 508h1v1h-1zM50 509h1v1h-1zM59 509h1v1h-1zM82 509h1v1h-1zM92 509h1v1h-1zM114 509h1v1h-1zM172 509h1v1h-1zM184 509h1v1h-1zM205 509h1v1h-1zM227 509h1v1h-1zM249 509h1v1h-1zM301 509h1v1h-1zM327 509h1v1h-1zM412 509h1v1h-1zM454 509h1v1h-1zM479 509h1v1h-1zM515 509h1v1h-1zM526 509h1v1h-1zM536 509h1v1h-1zM556 509h1v1h-1zM616 509h1v1h-1zM633 509h1v1h-1zM656 509h1v1h-1zM690 509h1v1h-1zM49 510h1v1h-1zM59 510h1v1h-1zM82 510h1v1h-1zM93 510h1v1h-1zM114 510h1v1h-1zM172 510h1v1h-1zM184 510h1v1h-1zM205 510h1v1h-1zM227 510h1v1h-1zM249 510h1v1h-1zM301 510h1v1h-1zM412 510h1v1h-1zM454 510h1v1h-1zM479 510h1v1h-1zM514 510h1v1h-1zM526 510h1v1h-1zM536 510h1v1h-1zM556 510h1v1h-1zM616 510h1v1h-1zM633 510h1v1h-1zM656 510h1v1h-1zM690 510h1v1h-1zM49 511h1v1h-1zM59 511h1v1h-1zM82 511h1v1h-1zM93 511h1v1h-1zM114 511h1v1h-1zM173 511h1v1h-1zM184 511h1v1h-1zM205 511h1v1h-1zM227 511h1v1h-1zM250 511h1v1h-1zM300 511h1v1h-1zM412 511h1v1h-1zM453 511h1v1h-1zM480 511h1v1h-1zM514 511h1v1h-1zM527 511h1v1h-1zM536 511h1v1h-1zM557 511h1v1h-1zM615 511h1v1h-1zM633 511h1v1h-1zM656 511h1v1h-1zM691 511h1v1h-1zM49 512h1v1h-1zM60 512h1v1h-1zM82 512h1v1h-1zM93 512h1v1h-1zM114 512h1v1h-1zM173 512h1v1h-1zM184 512h1v1h-1zM205 512h1v1h-1zM227 512h1v1h-1zM250 512h1v1h-1zM300 512h1v1h-1zM413 512h1v1h-1zM453 512h1v1h-1zM480 512h1v1h-1zM514 512h1v1h-1zM527 512h1v1h-1zM536 512h1v1h-1zM557 512h1v1h-1zM615 512h1v1h-1zM633 512h1v1h-1zM656 512h1v1h-1zM691 512h1v1h-1zM49 513h1v1h-1zM60 513h1v1h-1zM82 513h1v1h-1zM93 513h1v1h-1zM114 513h1v1h-1zM173 513h1v1h-1zM184 513h1v1h-1zM205 513h1v1h-1zM227 513h1v1h-1zM250 513h1v1h-1zM300 513h1v1h-1zM413 513h1v1h-1zM453 513h1v1h-1zM480 513h1v1h-1zM514 513h1v1h-1zM527 513h1v1h-1zM535 513h1v1h-1zM558 513h1v1h-1zM615 513h1v1h-1zM634 513h1v1h-1zM656 513h1v1h-1zM691 513h1v1h-1zM49 514h1v1h-1zM60 514h1v1h-1zM82 514h1v1h-1zM94 514h1v1h-1zM113 514h1v1h-1zM173 514h1v1h-1zM183 514h1v1h-1zM205 514h1v1h-1zM227 514h1v1h-1zM250 514h1v1h-1zM300 514h1v1h-1zM413 514h1v1h-1zM453 514h1v1h-1zM480 514h1v1h-1zM514 514h1v1h-1zM527 514h1v1h-1zM535 514h1v1h-1zM558 514h1v1h-1zM615 514h1v1h-1zM634 514h1v1h-1zM656 514h1v1h-1zM691 514h1v1h-1zM49 515h1v1h-1zM60 515h1v1h-1zM82 515h1v1h-1zM94 515h1v1h-1zM113 515h1v1h-1zM173 515h1v1h-1zM183 515h1v1h-1zM206 515h1v1h-1zM226 515h1v1h-1zM250 515h1v1h-1zM300 515h1v1h-1zM413 515h1v1h-1zM453 515h1v1h-1zM480 515h1v1h-1zM514 515h1v1h-1zM528 515h1v1h-1zM535 515h1v1h-1zM558 515h1v1h-1zM615 515h1v1h-1zM634 515h1v1h-1zM655 515h1v1h-1zM692 515h1v1h-1zM49 516h1v1h-1zM60 516h1v1h-1zM81 516h1v1h-1zM94 516h1v1h-1zM113 516h1v1h-1zM174 516h1v1h-1zM183 516h1v1h-1zM206 516h1v1h-1zM226 516h1v1h-1zM251 516h1v1h-1zM300 516h1v1h-1zM413 516h1v1h-1zM452 516h1v1h-1zM480 516h1v1h-1zM514 516h1v1h-1zM528 516h1v1h-1zM535 516h1v1h-1zM559 516h1v1h-1zM614 516h1v1h-1zM634 516h1v1h-1zM655 516h1v1h-1zM692 516h1v1h-1zM48 517h1v1h-1zM61 517h1v1h-1zM81 517h1v1h-1zM94 517h1v1h-1zM113 517h1v1h-1zM174 517h1v1h-1zM183 517h1v1h-1zM206 517h1v1h-1zM226 517h1v1h-1zM251 517h1v1h-1zM299 517h1v1h-1zM413 517h1v1h-1zM452 517h1v1h-1zM480 517h1v1h-1zM514 517h1v1h-1zM528 517h1v1h-1zM534 517h1v1h-1zM559 517h1v1h-1zM614 517h1v1h-1zM634 517h1v1h-1zM655 517h1v1h-1zM692 517h1v1h-1zM48 518h1v1h-1zM61 518h1v1h-1zM81 518h1v1h-1zM95 518h1v1h-1zM113 518h1v1h-1zM174 518h1v1h-1zM182 518h1v1h-1zM206 518h1v1h-1zM226 518h1v1h-1zM251 518h1v1h-1zM299 518h1v1h-1zM414 518h1v1h-1zM452 518h1v1h-1zM481 518h1v1h-1zM513 518h1v1h-1zM529 518h1v1h-1zM534 518h1v1h-1zM559 518h1v1h-1zM614 518h1v1h-1zM634 518h1v1h-1zM655 518h1v1h-1zM692 518h1v1h-1zM48 519h1v1h-1zM61 519h1v1h-1zM81 519h1v1h-1zM95 519h1v1h-1zM113 519h1v1h-1zM174 519h1v1h-1zM182 519h1v1h-1zM206 519h1v1h-1zM226 519h1v1h-1zM251 519h1v1h-1zM299 519h1v1h-1zM414 519h1v1h-1zM452 519h1v1h-1zM481 519h1v1h-1zM513 519h1v1h-1zM529 519h1v1h-1zM534 519h1v1h-1zM559 519h1v1h-1zM614 519h1v1h-1zM634 519h1v1h-1zM655 519h1v1h-1zM693 519h1v1h-1zM48 520h1v1h-1zM61 520h1v1h-1zM81 520h1v1h-1zM95 520h1v1h-1zM113 520h1v1h-1zM174 520h1v1h-1zM181 520h1v1h-1zM207 520h1v1h-1zM226 520h1v1h-1zM251 520h1v1h-1zM299 520h1v1h-1zM414 520h1v1h-1zM451 520h1v1h-1zM481 520h1v1h-1zM513 520h1v1h-1zM529 520h1v1h-1zM533 520h1v1h-1zM559 520h1v1h-1zM614 520h1v1h-1zM635 520h1v1h-1zM654 520h1v1h-1zM693 520h1v1h-1zM48 521h1v1h-1zM61 521h1v1h-1zM81 521h1v1h-1zM95 521h1v1h-1zM113 521h1v1h-1zM174 521h1v1h-1zM181 521h1v1h-1zM207 521h1v1h-1zM225 521h1v1h-1zM252 521h1v1h-1zM299 521h1v1h-1zM414 521h1v1h-1zM451 521h1v1h-1zM481 521h1v1h-1zM513 521h1v1h-1zM529 521h1v1h-1zM533 521h1v1h-1zM560 521h1v1h-1zM591 521h1v1h-1zM614 521h1v1h-1zM635 521h1v1h-1zM654 521h1v1h-1zM693 521h1v1h-1zM48 522h1v1h-1zM61 522h1v1h-1zM80 522h1v1h-1zM95 522h1v1h-1zM112 522h1v1h-1zM175 522h1v1h-1zM180 522h1v1h-1zM207 522h1v1h-1zM225 522h1v1h-1zM252 522h1v1h-1zM298 522h1v1h-1zM414 522h1v1h-1zM451 522h1v1h-1zM481 522h1v1h-1zM513 522h1v1h-1zM530 522h1v1h-1zM532 522h1v1h-1zM560 522h1v1h-1zM591 522h1v1h-1zM613 522h1v1h-1zM635 522h1v1h-1zM654 522h1v1h-1zM694 522h1v1h-1zM47 523h1v1h-1zM62 523h1v1h-1zM80 523h1v1h-1zM96 523h1v1h-1zM112 523h1v1h-1zM175 523h1v1h-1zM180 523h1v1h-1zM207 523h1v1h-1zM225 523h1v1h-1zM252 523h1v1h-1zM298 523h1v1h-1zM414 523h1v1h-1zM451 523h1v1h-1zM481 523h1v1h-1zM513 523h1v1h-1zM530 523h1v1h-1zM532 523h1v1h-1zM560 523h1v1h-1zM590 523h1v1h-1zM592 523h1v1h-1zM613 523h1v1h-1zM635 523h1v1h-1zM654 523h1v1h-1zM694 523h1v1h-1zM47 524h1v1h-1zM62 524h1v1h-1zM80 524h1v1h-1zM96 524h1v1h-1zM112 524h1v1h-1zM175 524h5v1h-5zM208 524h1v1h-1zM225 524h1v1h-1zM252 524h1v1h-1zM298 524h1v1h-1zM414 524h1v1h-1zM451 524h1v1h-1zM481 524h1v1h-1zM513 524h1v1h-1zM530 524h1v1h-1zM532 524h1v1h-1zM560 524h1v1h-1zM590 524h1v1h-1zM592 524h1v1h-1zM613 524h1v1h-1zM635 524h1v1h-1zM653 524h1v1h-1zM694 524h1v1h-1zM47 525h1v1h-1zM62 525h1v1h-1zM80 525h1v1h-1zM96 525h1v1h-1zM112 525h1v1h-1zM208 525h1v1h-1zM225 525h1v1h-1zM253 525h1v1h-1zM298 525h1v1h-1zM415 525h1v1h-1zM451 525h1v1h-1zM481 525h1v1h-1zM513 525h1v1h-1zM531 525h1v1h-1zM560 525h1v1h-1zM590 525h1v1h-1zM592 525h1v1h-1zM613 525h1v1h-1zM635 525h1v1h-1zM653 525h1v1h-1zM694 525h1v1h-1zM47 526h1v1h-1zM62 526h1v1h-1zM80 526h1v1h-1zM96 526h1v1h-1zM112 526h1v1h-1zM208 526h1v1h-1zM224 526h1v1h-1zM253 526h1v1h-1zM298 526h1v1h-1zM415 526h1v1h-1zM450 526h1v1h-1zM482 526h1v1h-1zM512 526h1v1h-1zM531 526h1v1h-1zM560 526h1v1h-1zM590 526h1v1h-1zM592 526h1v1h-1zM613 526h1v1h-1zM636 526h1v1h-1zM653 526h1v1h-1zM695 526h1v1h-1zM47 527h1v1h-1zM62 527h1v1h-1zM80 527h1v1h-1zM96 527h1v1h-1zM112 527h1v1h-1zM208 527h1v1h-1zM224 527h1v1h-1zM253 527h1v1h-1zM297 527h1v1h-1zM415 527h1v1h-1zM450 527h1v1h-1zM482 527h1v1h-1zM512 527h1v1h-1zM560 527h1v1h-1zM589 527h1v1h-1zM593 527h1v1h-1zM613 527h1v1h-1zM636 527h1v1h-1zM653 527h1v1h-1zM695 527h1v1h-1zM47 528h1v1h-1zM63 528h1v1h-1zM80 528h1v1h-1zM96 528h1v1h-1zM112 528h1v1h-1zM209 528h1v1h-1zM224 528h1v1h-1zM253 528h1v1h-1zM297 528h1v1h-1zM415 528h1v1h-1zM450 528h1v1h-1zM482 528h1v1h-1zM512 528h1v1h-1zM560 528h1v1h-1zM589 528h1v1h-1zM593 528h1v1h-1zM612 528h1v1h-1zM636 528h1v1h-1zM652 528h1v1h-1zM695 528h1v1h-1zM46 529h1v1h-1zM63 529h1v1h-1zM79 529h1v1h-1zM97 529h1v1h-1zM112 529h1v1h-1zM209 529h1v1h-1zM224 529h1v1h-1zM254 529h1v1h-1zM297 529h1v1h-1zM415 529h1v1h-1zM450 529h1v1h-1zM482 529h1v1h-1zM512 529h1v1h-1zM561 529h1v1h-1zM589 529h1v1h-1zM593 529h1v1h-1zM612 529h1v1h-1zM636 529h1v1h-1zM652 529h1v1h-1zM695 529h1v1h-1zM46 530h1v1h-1zM63 530h1v1h-1zM79 530h1v1h-1zM97 530h1v1h-1zM111 530h1v1h-1zM209 530h1v1h-1zM224 530h1v1h-1zM254 530h1v1h-1zM297 530h1v1h-1zM415 530h1v1h-1zM450 530h1v1h-1zM482 530h1v1h-1zM512 530h1v1h-1zM561 530h1v1h-1zM589 530h1v1h-1zM593 530h1v1h-1zM612 530h1v1h-1zM636 530h1v1h-1zM652 530h1v1h-1zM695 530h1v1h-1zM46 531h1v1h-1zM63 531h1v1h-1zM79 531h1v1h-1zM97 531h1v1h-1zM111 531h1v1h-1zM210 531h1v1h-1zM224 531h1v1h-1zM254 531h1v1h-1zM296 531h1v1h-1zM415 531h1v1h-1zM450 531h1v1h-1zM482 531h1v1h-1zM512 531h1v1h-1zM561 531h1v1h-1zM588 531h1v1h-1zM594 531h1v1h-1zM612 531h1v1h-1zM636 531h1v1h-1zM652 531h1v1h-1zM696 531h1v1h-1zM46 532h1v1h-1zM63 532h1v1h-1zM79 532h1v1h-1zM97 532h1v1h-1zM111 532h1v1h-1zM210 532h1v1h-1zM223 532h1v1h-1zM254 532h1v1h-1zM296 532h1v1h-1zM415 532h1v1h-1zM450 532h1v1h-1zM482 532h1v1h-1zM512 532h1v1h-1zM561 532h1v1h-1zM588 532h1v1h-1zM594 532h1v1h-1zM612 532h1v1h-1zM637 532h1v1h-1zM651 532h1v1h-1zM696 532h1v1h-1zM27 533h1v1h-1zM46 533h1v1h-1zM63 533h1v1h-1zM79 533h1v1h-1zM97 533h1v1h-1zM111 533h1v1h-1zM210 533h1v1h-1zM223 533h1v1h-1zM255 533h1v1h-1zM296 533h1v1h-1zM416 533h1v1h-1zM449 533h1v1h-1zM483 533h1v1h-1zM512 533h1v1h-1zM561 533h1v1h-1zM588 533h1v1h-1zM594 533h1v1h-1zM612 533h1v1h-1zM637 533h1v1h-1zM651 533h1v1h-1zM696 533h1v1h-1zM27 534h2v1h-2zM46 534h1v1h-1zM64 534h1v1h-1zM79 534h1v1h-1zM97 534h1v1h-1zM111 534h1v1h-1zM210 534h1v1h-1zM223 534h1v1h-1zM255 534h1v1h-1zM296 534h1v1h-1zM416 534h1v1h-1zM449 534h1v1h-1zM483 534h1v1h-1zM511 534h1v1h-1zM561 534h1v1h-1zM588 534h1v1h-1zM594 534h1v1h-1zM611 534h1v1h-1zM637 534h1v1h-1zM651 534h1v1h-1zM696 534h1v1h-1zM26 535h1v1h-1zM28 535h1v1h-1zM45 535h1v1h-1zM64 535h1v1h-1zM79 535h1v1h-1zM97 535h1v1h-1zM111 535h1v1h-1zM211 535h1v1h-1zM222 535h1v1h-1zM255 535h1v1h-1zM296 535h1v1h-1zM416 535h1v1h-1zM449 535h1v1h-1zM483 535h1v1h-1zM511 535h1v1h-1zM561 535h1v1h-1zM587 535h1v1h-1zM595 535h1v1h-1zM611 535h1v1h-1zM637 535h1v1h-1zM650 535h1v1h-1zM696 535h1v1h-1zM26 536h1v1h-1zM29 536h1v1h-1zM45 536h1v1h-1zM64 536h1v1h-1zM78 536h1v1h-1zM98 536h1v1h-1zM111 536h1v1h-1zM211 536h1v1h-1zM222 536h1v1h-1zM255 536h1v1h-1zM295 536h1v1h-1zM416 536h1v1h-1zM449 536h1v1h-1zM483 536h1v1h-1zM511 536h1v1h-1zM561 536h1v1h-1zM587 536h1v1h-1zM595 536h1v1h-1zM611 536h1v1h-1zM637 536h1v1h-1zM650 536h1v1h-1zM696 536h1v1h-1zM26 537h1v1h-1zM30 537h1v1h-1zM45 537h1v1h-1zM64 537h1v1h-1zM78 537h1v1h-1zM98 537h1v1h-1zM111 537h1v1h-1zM211 537h1v1h-1zM221 537h1v1h-1zM255 537h1v1h-1zM295 537h1v1h-1zM416 537h1v1h-1zM449 537h1v1h-1zM483 537h1v1h-1zM511 537h1v1h-1zM562 537h1v1h-1zM587 537h1v1h-1zM595 537h1v1h-1zM611 537h1v1h-1zM638 537h1v1h-1zM649 537h1v1h-1zM696 537h1v1h-1zM26 538h1v1h-1zM30 538h1v1h-1zM45 538h1v1h-1zM64 538h1v1h-1zM78 538h1v1h-1zM98 538h1v1h-1zM110 538h1v1h-1zM212 538h1v1h-1zM221 538h1v1h-1zM255 538h1v1h-1zM295 538h1v1h-1zM416 538h1v1h-1zM449 538h1v1h-1zM483 538h1v1h-1zM511 538h1v1h-1zM562 538h1v1h-1zM587 538h1v1h-1zM596 538h1v1h-1zM610 538h1v1h-1zM638 538h1v1h-1zM649 538h1v1h-1zM696 538h1v1h-1zM25 539h1v1h-1zM31 539h1v1h-1zM45 539h1v1h-1zM64 539h1v1h-1zM78 539h1v1h-1zM98 539h1v1h-1zM110 539h1v1h-1zM212 539h1v1h-1zM220 539h1v1h-1zM256 539h1v1h-1zM295 539h1v1h-1zM416 539h1v1h-1zM448 539h1v1h-1zM483 539h1v1h-1zM510 539h1v1h-1zM562 539h1v1h-1zM586 539h1v1h-1zM596 539h1v1h-1zM610 539h1v1h-1zM638 539h1v1h-1zM649 539h1v1h-1zM697 539h1v1h-1zM25 540h1v1h-1zM31 540h1v1h-1zM45 540h1v1h-1zM64 540h1v1h-1zM78 540h1v1h-1zM98 540h1v1h-1zM110 540h1v1h-1zM212 540h1v1h-1zM220 540h1v1h-1zM256 540h1v1h-1zM294 540h1v1h-1zM416 540h1v1h-1zM448 540h1v1h-1zM483 540h1v1h-1zM510 540h1v1h-1zM562 540h1v1h-1zM586 540h1v1h-1zM597 540h1v1h-1zM610 540h1v1h-1zM638 540h1v1h-1zM648 540h1v1h-1zM697 540h1v1h-1zM25 541h1v1h-1zM32 541h1v1h-1zM44 541h1v1h-1zM64 541h1v1h-1zM78 541h1v1h-1zM98 541h1v1h-1zM110 541h1v1h-1zM213 541h1v1h-1zM219 541h1v1h-1zM256 541h1v1h-1zM294 541h1v1h-1zM417 541h1v1h-1zM448 541h1v1h-1zM484 541h1v1h-1zM510 541h1v1h-1zM562 541h1v1h-1zM586 541h1v1h-1zM597 541h1v1h-1zM609 541h1v1h-1zM638 541h1v1h-1zM648 541h1v1h-1zM697 541h1v1h-1zM24 542h1v1h-1zM32 542h1v1h-1zM44 542h1v1h-1zM65 542h1v1h-1zM78 542h1v1h-1zM99 542h1v1h-1zM110 542h1v1h-1zM213 542h1v1h-1zM218 542h1v1h-1zM256 542h1v1h-1zM293 542h1v1h-1zM417 542h1v1h-1zM448 542h1v1h-1zM484 542h1v1h-1zM510 542h1v1h-1zM562 542h1v1h-1zM586 542h1v1h-1zM597 542h1v1h-1zM609 542h1v1h-1zM638 542h1v1h-1zM647 542h1v1h-1zM697 542h1v1h-1zM24 543h1v1h-1zM32 543h1v1h-1zM44 543h1v1h-1zM65 543h1v1h-1zM78 543h1v1h-1zM99 543h1v1h-1zM110 543h1v1h-1zM214 543h1v1h-1zM218 543h1v1h-1zM256 543h1v1h-1zM293 543h1v1h-1zM417 543h1v1h-1zM448 543h1v1h-1zM484 543h1v1h-1zM509 543h1v1h-1zM562 543h1v1h-1zM585 543h1v1h-1zM598 543h1v1h-1zM608 543h1v1h-1zM639 543h1v1h-1zM647 543h1v1h-1zM697 543h1v1h-1zM24 544h1v1h-1zM33 544h1v1h-1zM44 544h1v1h-1zM65 544h1v1h-1zM77 544h1v1h-1zM99 544h1v1h-1zM110 544h1v1h-1zM214 544h1v1h-1zM217 544h1v1h-1zM256 544h1v1h-1zM293 544h1v1h-1zM417 544h1v1h-1zM448 544h1v1h-1zM484 544h1v1h-1zM509 544h1v1h-1zM562 544h1v1h-1zM585 544h1v1h-1zM598 544h1v1h-1zM608 544h1v1h-1zM639 544h1v1h-1zM646 544h1v1h-1zM697 544h1v1h-1zM24 545h1v1h-1zM33 545h1v1h-1zM44 545h1v1h-1zM65 545h1v1h-1zM77 545h1v1h-1zM99 545h1v1h-1zM110 545h1v1h-1zM214 545h1v1h-1zM216 545h1v1h-1zM256 545h1v1h-1zM292 545h1v1h-1zM417 545h1v1h-1zM448 545h1v1h-1zM484 545h1v1h-1zM509 545h1v1h-1zM563 545h1v1h-1zM585 545h1v1h-1zM599 545h1v1h-1zM608 545h1v1h-1zM639 545h1v1h-1zM646 545h1v1h-1zM697 545h1v1h-1zM23 546h1v1h-1zM34 546h1v1h-1zM44 546h1v1h-1zM65 546h1v1h-1zM77 546h1v1h-1zM99 546h1v1h-1zM109 546h1v1h-1zM215 546h2v1h-2zM256 546h1v1h-1zM292 546h1v1h-1zM417 546h1v1h-1zM447 546h1v1h-1zM484 546h1v1h-1zM509 546h1v1h-1zM563 546h1v1h-1zM585 546h1v1h-1zM599 546h1v1h-1zM607 546h1v1h-1zM640 546h1v1h-1zM645 546h1v1h-1zM698 546h1v1h-1zM23 547h1v1h-1zM34 547h1v1h-1zM43 547h1v1h-1zM65 547h1v1h-1zM77 547h1v1h-1zM99 547h1v1h-1zM109 547h1v1h-1zM215 547h1v1h-1zM257 547h1v1h-1zM291 547h1v1h-1zM417 547h1v1h-1zM447 547h1v1h-1zM484 547h1v1h-1zM508 547h1v1h-1zM563 547h1v1h-1zM585 547h1v1h-1zM599 547h1v1h-1zM607 547h1v1h-1zM641 547h1v1h-1zM644 547h1v1h-1zM698 547h1v1h-1zM23 548h1v1h-1zM34 548h1v1h-1zM43 548h1v1h-1zM65 548h1v1h-1zM77 548h1v1h-1zM100 548h1v1h-1zM109 548h1v1h-1zM257 548h1v1h-1zM291 548h1v1h-1zM417 548h1v1h-1zM439 548h1v1h-1zM447 548h1v1h-1zM484 548h1v1h-1zM508 548h1v1h-1zM563 548h5v1h-5zM584 548h1v1h-1zM599 548h1v1h-1zM607 548h1v1h-1zM642 548h1v1h-1zM644 548h1v1h-1zM698 548h1v1h-1zM22 549h1v1h-1zM35 549h1v1h-1zM43 549h1v1h-1zM65 549h1v1h-1zM77 549h1v1h-1zM100 549h1v1h-1zM109 549h1v1h-1zM257 549h1v1h-1zM291 549h1v1h-1zM417 549h1v1h-1zM438 549h1v1h-1zM440 549h1v1h-1zM447 549h1v1h-1zM485 549h1v1h-1zM508 549h1v1h-1zM567 549h1v1h-1zM584 549h1v1h-1zM600 549h1v1h-1zM606 549h1v1h-1zM643 549h1v1h-1zM698 549h1v1h-1zM22 550h1v1h-1zM35 550h1v1h-1zM43 550h1v1h-1zM66 550h1v1h-1zM77 550h1v1h-1zM100 550h1v1h-1zM109 550h1v1h-1zM257 550h1v1h-1zM290 550h1v1h-1zM418 550h1v1h-1zM437 550h1v1h-1zM440 550h1v1h-1zM446 550h1v1h-1zM485 550h1v1h-1zM508 550h1v1h-1zM568 550h1v1h-1zM584 550h1v1h-1zM600 550h1v1h-1zM606 550h1v1h-1zM698 550h1v1h-1zM22 551h1v1h-1zM35 551h1v1h-1zM42 551h1v1h-1zM66 551h1v1h-1zM77 551h1v1h-1zM100 551h1v1h-1zM109 551h1v1h-1zM257 551h1v1h-1zM290 551h1v1h-1zM418 551h1v1h-1zM437 551h1v1h-1zM441 551h1v1h-1zM446 551h1v1h-1zM485 551h1v1h-1zM507 551h1v1h-1zM568 551h1v1h-1zM584 551h1v1h-1zM600 551h1v1h-1zM606 551h1v1h-1zM698 551h1v1h-1zM21 552h1v1h-1zM36 552h1v1h-1zM42 552h1v1h-1zM66 552h1v1h-1zM76 552h1v1h-1zM100 552h1v1h-1zM109 552h1v1h-1zM257 552h1v1h-1zM290 552h1v1h-1zM418 552h1v1h-1zM436 552h1v1h-1zM441 552h1v1h-1zM445 552h1v1h-1zM485 552h1v1h-1zM507 552h1v1h-1zM569 552h1v1h-1zM583 552h1v1h-1zM600 552h1v1h-1zM606 552h1v1h-1zM698 552h1v1h-1zM21 553h1v1h-1zM36 553h1v1h-1zM41 553h1v1h-1zM66 553h1v1h-1zM76 553h1v1h-1zM101 553h1v1h-1zM108 553h1v1h-1zM257 553h1v1h-1zM290 553h1v1h-1zM418 553h1v1h-1zM435 553h1v1h-1zM442 553h1v1h-1zM444 553h1v1h-1zM485 553h1v1h-1zM507 553h1v1h-1zM569 553h1v1h-1zM583 553h1v1h-1zM601 553h1v1h-1zM605 553h1v1h-1zM698 553h1v1h-1zM21 554h1v1h-1zM37 554h1v1h-1zM41 554h1v1h-1zM66 554h1v1h-1zM76 554h1v1h-1zM101 554h1v1h-1zM108 554h1v1h-1zM257 554h1v1h-1zM289 554h1v1h-1zM418 554h1v1h-1zM434 554h1v1h-1zM442 554h1v1h-1zM444 554h1v1h-1zM485 554h1v1h-1zM507 554h1v1h-1zM570 554h1v1h-1zM583 554h1v1h-1zM601 554h1v1h-1zM605 554h1v1h-1zM699 554h1v1h-1zM21 555h1v1h-1zM37 555h1v1h-1zM41 555h1v1h-1zM66 555h1v1h-1zM76 555h1v1h-1zM101 555h1v1h-1zM108 555h1v1h-1zM258 555h1v1h-1zM278 555h2v1h-2zM289 555h1v1h-1zM418 555h1v1h-1zM433 555h1v1h-1zM443 555h1v1h-1zM485 555h1v1h-1zM506 555h1v1h-1zM570 555h1v1h-1zM574 555h2v1h-2zM582 555h1v1h-1zM601 555h1v1h-1zM605 555h1v1h-1zM699 555h1v1h-1zM20 556h1v1h-1zM38 556h1v1h-1zM40 556h1v1h-1zM66 556h1v1h-1zM76 556h1v1h-1zM101 556h1v1h-1zM108 556h1v1h-1zM258 556h1v1h-1zM275 556h3v1h-3zM279 556h1v1h-1zM289 556h1v1h-1zM418 556h1v1h-1zM432 556h1v1h-1zM485 556h1v1h-1zM506 556h1v1h-1zM571 556h3v1h-3zM576 556h1v1h-1zM582 556h1v1h-1zM601 556h1v1h-1zM605 556h1v1h-1zM699 556h1v1h-1zM20 557h1v1h-1zM38 557h1v1h-1zM40 557h1v1h-1zM66 557h1v1h-1zM76 557h1v1h-1zM101 557h1v1h-1zM108 557h1v1h-1zM258 557h1v1h-1zM274 557h1v1h-1zM280 557h1v1h-1zM288 557h1v1h-1zM418 557h1v1h-1zM431 557h1v1h-1zM486 557h1v1h-1zM506 557h1v1h-1zM576 557h1v1h-1zM581 557h1v1h-1zM602 557h1v1h-1zM604 557h1v1h-1zM699 557h1v1h-1zM20 558h1v1h-1zM39 558h1v1h-1zM67 558h1v1h-1zM76 558h1v1h-1zM102 558h1v1h-1zM108 558h1v1h-1zM258 558h1v1h-1zM273 558h1v1h-1zM280 558h1v1h-1zM288 558h1v1h-1zM419 558h1v1h-1zM431 558h1v1h-1zM486 558h1v1h-1zM506 558h1v1h-1zM577 558h1v1h-1zM581 558h1v1h-1zM602 558h1v1h-1zM604 558h1v1h-1zM699 558h1v1h-1zM19 559h1v1h-1zM39 559h1v1h-1zM67 559h1v1h-1zM76 559h1v1h-1zM102 559h1v1h-1zM108 559h1v1h-1zM258 559h1v1h-1zM272 559h1v1h-1zM281 559h1v1h-1zM288 559h1v1h-1zM419 559h1v1h-1zM430 559h1v1h-1zM486 559h1v1h-1zM505 559h1v1h-1zM577 559h1v1h-1zM580 559h1v1h-1zM602 559h1v1h-1zM604 559h1v1h-1zM700 559h1v1h-1zM19 560h1v1h-1zM67 560h1v1h-1zM75 560h1v1h-1zM102 560h1v1h-1zM108 560h1v1h-1zM258 560h1v1h-1zM271 560h1v1h-1zM281 560h1v1h-1zM288 560h1v1h-1zM419 560h1v1h-1zM430 560h1v1h-1zM486 560h1v1h-1zM505 560h1v1h-1zM578 560h1v1h-1zM580 560h1v1h-1zM602 560h1v1h-1zM604 560h1v1h-1zM700 560h1v1h-1zM19 561h1v1h-1zM67 561h1v1h-1zM75 561h1v1h-1zM102 561h1v1h-1zM107 561h1v1h-1zM258 561h1v1h-1zM271 561h1v1h-1zM281 561h1v1h-1zM287 561h1v1h-1zM419 561h1v1h-1zM430 561h1v1h-1zM486 561h1v1h-1zM505 561h1v1h-1zM578 561h2v1h-2zM603 561h1v1h-1zM700 561h1v1h-1zM18 562h1v1h-1zM67 562h1v1h-1zM75 562h1v1h-1zM102 562h1v1h-1zM107 562h1v1h-1zM258 562h1v1h-1zM270 562h1v1h-1zM282 562h1v1h-1zM287 562h1v1h-1zM419 562h1v1h-1zM429 562h1v1h-1zM486 562h1v1h-1zM505 562h1v1h-1zM579 562h1v1h-1zM603 562h1v1h-1zM701 562h1v1h-1zM18 563h1v1h-1zM68 563h1v1h-1zM75 563h1v1h-1zM103 563h1v1h-1zM107 563h1v1h-1zM259 563h1v1h-1zM270 563h1v1h-1zM282 563h1v1h-1zM286 563h1v1h-1zM419 563h1v1h-1zM429 563h1v1h-1zM486 563h1v1h-1zM505 563h1v1h-1zM701 563h1v1h-1zM17 564h1v1h-1zM68 564h1v1h-1zM74 564h1v1h-1zM103 564h1v1h-1zM106 564h2v1h-2zM259 564h1v1h-1zM270 564h1v1h-1zM283 564h3v1h-3zM420 564h1v1h-1zM429 564h1v1h-1zM486 564h1v1h-1zM504 564h1v1h-1zM702 564h1v1h-1zM17 565h1v1h-1zM69 565h1v1h-1zM74 565h1v1h-1zM103 565h3v1h-3zM259 565h1v1h-1zM269 565h1v1h-1zM283 565h1v1h-1zM420 565h1v1h-1zM429 565h1v1h-1zM487 565h1v1h-1zM504 565h1v1h-1zM702 565h1v1h-1zM16 566h1v1h-1zM69 566h1v1h-1zM73 566h1v1h-1zM259 566h1v1h-1zM269 566h1v1h-1zM421 566h1v1h-1zM428 566h1v1h-1zM487 566h1v1h-1zM504 566h1v1h-1zM702 566h1v1h-1zM16 567h1v1h-1zM70 567h1v1h-1zM73 567h1v1h-1zM259 567h1v1h-1zM269 567h1v1h-1zM421 567h1v1h-1zM428 567h1v1h-1zM487 567h1v1h-1zM504 567h1v1h-1zM703 567h1v1h-1zM15 568h1v1h-1zM70 568h1v1h-1zM72 568h1v1h-1zM260 568h1v1h-1zM269 568h1v1h-1zM422 568h1v1h-1zM428 568h1v1h-1zM487 568h1v1h-1zM503 568h1v1h-1zM703 568h1v1h-1zM10 569h6v1h-6zM71 569h2v1h-2zM260 569h1v1h-1zM268 569h1v1h-1zM422 569h1v1h-1zM427 569h1v1h-1zM487 569h2v1h-2zM495 569h2v1h-2zM503 569h1v1h-1zM703 569h1v1h-1zM7 570h3v1h-3zM71 570h1v1h-1zM261 570h1v1h-1zM268 570h1v1h-1zM423 570h5v1h-5zM489 570h2v1h-2zM493 570h2v1h-2zM497 570h2v1h-2zM502 570h2v1h-2zM704 570h1v1h-1zM6 571h1v1h-1zM261 571h1v1h-1zM268 571h1v1h-1zM491 571h2v1h-2zM499 571h3v1h-3zM704 571h1v1h-1zM5 572h1v1h-1zM262 572h1v1h-1zM267 572h1v1h-1zM705 572h1v1h-1zM5 573h1v1h-1zM262 573h1v1h-1zM267 573h1v1h-1zM705 573h1v1h-1zM4 574h1v1h-1zM263 574h1v1h-1zM265 574h2v1h-2zM705 574h1v1h-1zM730 574h2v1h-2zM3 575h1v1h-1zM263 575h2v1h-2zM706 575h1v1h-1zM723 575h7v1h-7zM706 576h1v1h-1zM722 576h1v1h-1zM707 577h1v1h-1zM720 577h2v1h-2zM707 578h3v1h-3zM714 578h6v1h-6zM710 579h4v1h-4z" fill="#000"/><path d="M759 307h41v11h-41z" fill="#FF0000"/><path d="M759 318h41v10h-41z" fill="#404040"/><path d="M6 9h7v1h-7zM7 10h5v1h-5zM8 11h3v1h-3zM9 12h1v1h-1z" fill="#404040"/></svg>
<div class="t" style="left:763.30px;top:27.50px;color:#303030;letter-spacing:-0.520px;">1.58950</div><div class="t" style="left:763.30px;top:60.50px;color:#303030;letter-spacing:-0.520px;">1.52830</div><div class="t" style="left:763.30px;top:93.50px;color:#303030;letter-spacing:-0.520px;">1.46890</div><div class="t" style="left:763.30px;top:126.50px;color:#303030;letter-spacing:-0.520px;">1.40950</div><div class="t" style="left:763.30px;top:159.50px;color:#303030;letter-spacing:-0.520px;">1.34830</div><div class="t" style="left:763.30px;top:192.50px;color:#303030;letter-spacing:-0.520px;">1.28890</div><div class="t" style="left:763.30px;top:225.50px;color:#303030;letter-spacing:-0.520px;">1.22770</div><div class="t" style="left:763.30px;top:258.50px;color:#303030;letter-spacing:-0.520px;">1.16830</div><div class="t" style="left:763.30px;top:291.50px;color:#303030;letter-spacing:-0.520px;">1.10890</div><div class="t" style="left:763.30px;top:324.50px;color:#303030;letter-spacing:-0.520px;">1.04770</div><div class="t" style="left:763.30px;top:357.50px;color:#303030;letter-spacing:-0.520px;">0.98830</div><div class="t" style="left:763.30px;top:390.50px;color:#303030;letter-spacing:-0.520px;">0.92710</div><div class="t" style="left:763.30px;top:423.50px;color:#303030;letter-spacing:-0.520px;">0.86770</div><div class="t" style="left:763.30px;top:456.50px;color:#303030;letter-spacing:-0.520px;">0.80830</div><div class="t" style="left:763.60px;top:307.50px;color:#fff;letter-spacing:-0.520px;z-index:3">1.07861</div><div class="t" style="left:763.60px;top:317.50px;color:#fff;letter-spacing:-0.520px;z-index:3">1.06046</div><div class="t" style="left:761.40px;top:469.50px;color:#303030;letter-spacing:-1.030px;">100</div><div class="t" style="left:760.10px;top:485.50px;color:#303030;letter-spacing:-1.406px;">80</div><div class="t" style="left:760.10px;top:553.50px;color:#303030;letter-spacing:-1.106px;">20</div><div class="t" style="left:761.20px;top:570.50px;color:#303030;letter-spacing:0.000px;">0</div><div class="t" style="left:3.00px;top:587.50px;color:#303030;letter-spacing:-0.554px;">1 Jan 2000</div><div class="t" style="left:67.00px;top:587.50px;color:#303030;letter-spacing:-0.300px;">1 May 2001</div><div class="t" style="left:131.00px;top:587.50px;color:#303030;letter-spacing:-0.514px;">1 Sep 2002</div><div class="t" style="left:195.00px;top:587.50px;color:#303030;letter-spacing:-0.554px;">1 Jan 2004</div><div class="t" style="left:259.00px;top:587.50px;color:#303030;letter-spacing:-0.300px;">1 May 2005</div><div class="t" style="left:323.00px;top:587.50px;color:#303030;letter-spacing:-0.514px;">1 Sep 2006</div><div class="t" style="left:387.00px;top:587.50px;color:#303030;letter-spacing:-0.554px;">1 Jan 2008</div><div class="t" style="left:451.00px;top:587.50px;color:#303030;letter-spacing:-0.300px;">1 May 2009</div><div class="t" style="left:515.00px;top:587.50px;color:#303030;letter-spacing:-0.514px;">1 Sep 2010</div><div class="t" style="left:579.00px;top:587.50px;color:#303030;letter-spacing:-0.554px;">1 Jan 2012</div><div class="t" style="left:643.00px;top:587.50px;color:#303030;letter-spacing:-0.300px;">1 May 2013</div><div class="t" style="left:707.00px;top:587.50px;color:#303030;letter-spacing:-0.514px;">1 Sep 2014</div><div class="t" style="left:18.70px;top:5.50px;color:#303030;letter-spacing:-0.277px;">EURUSD,Monthly</div><div class="t" style="left:101.00px;top:5.50px;color:#303030;letter-spacing:-0.548px;">1.11799</div><div class="t" style="left:137.00px;top:5.50px;color:#303030;letter-spacing:-0.670px;">1.12406</div><div class="t" style="left:173.00px;top:5.50px;color:#303030;letter-spacing:-0.670px;">1.04623</div><div class="t" style="left:209.00px;top:5.50px;color:#303030;letter-spacing:-0.670px;">1.06046</div><div class="t" style="left:9.60px;top:142.50px;color:#303030;letter-spacing:-0.281px;">#17224892 sell 4.00</div><div class="t" style="left:7.30px;top:471.50px;color:#303030;letter-spacing:-0.326px;">Stoch(5,3,3) 7.0546 6.4257</div><div class="t" style="left:6.90px;top:569.50px;color:#303030;letter-spacing:-0.128px;">JFD MT4+, © 2001-2014, MetaQuotes Software Corp.</div>
</body></html>
